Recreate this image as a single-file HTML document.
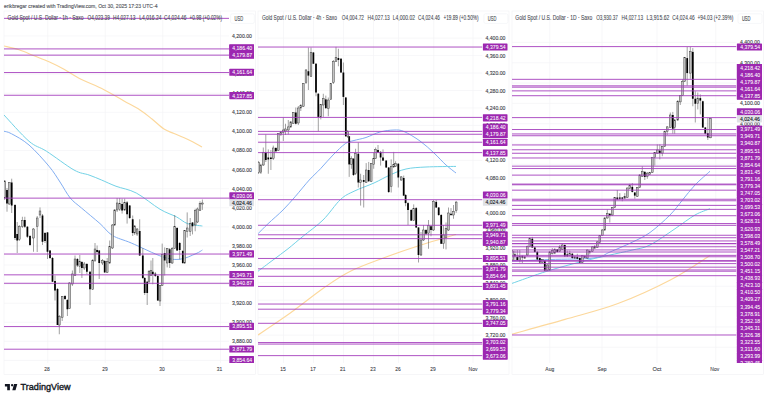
<!DOCTYPE html>
<html><head><meta charset="utf-8"><style>html,body{margin:0;padding:0;width:768px;height:400px;overflow:hidden;background:#fff}</style></head>
<body>
<svg width="768" height="400" viewBox="0 0 768 400" style="position:absolute;left:0;top:0;font-family:'Liberation Sans', sans-serif">
<rect width="768" height="400" fill="#ffffff"/>
<text x="4" y="8.3" font-size="6.2" fill="#555861" text-anchor="start" font-weight="normal" textLength="153.5" lengthAdjust="spacingAndGlyphs" stroke="#555861" stroke-width="0.15">erikbregar created with TradingView.com, Oct 30, 2025 17:23 UTC-4</text>
<clipPath id="clip0"><rect x="4" y="11" width="225" height="352"/></clipPath>
<clipPath id="aclip0"><rect x="229" y="11" width="26.5" height="352"/></clipPath>
<rect x="4" y="11" width="251.5" height="363.5" fill="#fff" stroke="#f0f1f4" stroke-width="0.6"/>
<g clip-path="url(#clip0)" stroke="#f3f4f6" stroke-width="0.7">
<line x1="4" x2="229" y1="35.93" y2="35.93"/>
<line x1="4" x2="229" y1="55.02" y2="55.02"/>
<line x1="4" x2="229" y1="74.11" y2="74.11"/>
<line x1="4" x2="229" y1="93.20" y2="93.20"/>
<line x1="4" x2="229" y1="112.29" y2="112.29"/>
<line x1="4" x2="229" y1="131.38" y2="131.38"/>
<line x1="4" x2="229" y1="150.47" y2="150.47"/>
<line x1="4" x2="229" y1="169.56" y2="169.56"/>
<line x1="4" x2="229" y1="188.65" y2="188.65"/>
<line x1="4" x2="229" y1="207.74" y2="207.74"/>
<line x1="4" x2="229" y1="226.83" y2="226.83"/>
<line x1="4" x2="229" y1="245.92" y2="245.92"/>
<line x1="4" x2="229" y1="265.01" y2="265.01"/>
<line x1="4" x2="229" y1="284.10" y2="284.10"/>
<line x1="4" x2="229" y1="303.19" y2="303.19"/>
<line x1="4" x2="229" y1="322.28" y2="322.28"/>
<line x1="4" x2="229" y1="341.37" y2="341.37"/>
<line x1="4" x2="229" y1="360.46" y2="360.46"/>
<line x1="47.8" x2="47.8" y1="11" y2="363"/>
<line x1="105.2" x2="105.2" y1="11" y2="363"/>
<line x1="162.8" x2="162.8" y1="11" y2="363"/>
<line x1="220.5" x2="220.5" y1="11" y2="363"/>
</g>
<g clip-path="url(#clip0)" fill="none" stroke-linejoin="round">
<path d="M4.00,46.00 C6.50,46.62 14.00,48.12 19.00,49.75 C24.00,51.38 29.00,53.75 34.00,55.75 C39.00,57.75 44.00,59.50 49.00,61.75 C54.00,64.00 59.00,66.50 64.00,69.25 C69.00,72.00 72.33,74.83 79.00,78.25 C85.67,81.67 96.50,85.96 104.00,89.75 C111.50,93.54 118.00,97.62 124.00,101.00 C130.00,104.38 135.33,107.00 140.00,110.00 C144.67,113.00 148.00,115.83 152.00,119.00 C156.00,122.17 160.33,126.58 164.00,129.00 C167.67,131.42 170.00,131.75 174.00,133.50 C178.00,135.25 183.33,137.25 188.00,139.50 C192.67,141.75 199.67,145.75 202.00,147.00" stroke="#fcd89c" stroke-width="1.15"/>
<path d="M4.00,115.00 C8.17,119.38 21.92,135.21 29.00,141.25 C36.08,147.29 39.00,146.46 46.50,151.25 C54.00,156.04 66.92,166.04 74.00,170.00 C81.08,173.96 84.42,173.33 89.00,175.00 C93.58,176.67 97.00,178.12 101.50,180.00 C106.00,181.88 110.21,184.08 116.00,186.25 C121.79,188.42 128.92,189.17 136.25,193.00 C143.58,196.83 153.29,205.27 160.00,209.25 C166.71,213.23 171.92,214.51 176.50,216.90 C181.08,219.29 183.18,222.08 187.50,223.60 C191.82,225.12 199.92,225.60 202.40,226.00" stroke="#72d2e6" stroke-width="1.0"/>
<path d="M4.00,131.25 C5.25,131.67 7.33,131.46 11.50,133.75 C15.67,136.04 22.75,139.58 29.00,145.00 C35.25,150.42 43.83,160.08 49.00,166.25 C54.17,172.42 56.46,176.71 60.00,182.00 C63.54,187.29 66.67,193.67 70.25,198.00 C73.83,202.33 76.54,203.73 81.50,208.00 C86.46,212.27 94.83,219.02 100.00,223.60 C105.17,228.18 107.29,232.27 112.50,235.50 C117.71,238.73 122.92,239.46 131.25,243.00 C139.58,246.54 154.38,254.04 162.50,256.75 C170.62,259.46 174.42,259.77 180.00,259.25 C185.58,258.73 192.27,255.14 196.00,253.60 C199.73,252.06 201.33,250.60 202.40,250.00" stroke="#82aef2" stroke-width="1.0"/>
</g>
<g clip-path="url(#clip0)">
<line x1="4.70" x2="4.70" y1="180.00" y2="200.00" stroke="#555" stroke-width="0.55"/>
<rect x="3.83" y="181.00" width="1.75" height="17.00" fill="#c4c4c4" stroke="#333" stroke-width="0.45"/>
<line x1="7.00" x2="7.00" y1="188.00" y2="211.70" stroke="#555" stroke-width="0.55"/>
<rect x="6.12" y="190.00" width="1.75" height="13.50" fill="#000"/>
<line x1="9.30" x2="9.30" y1="182.00" y2="205.00" stroke="#555" stroke-width="0.55"/>
<rect x="8.43" y="182.50" width="1.75" height="21.50" fill="#c4c4c4" stroke="#333" stroke-width="0.45"/>
<line x1="11.70" x2="11.70" y1="178.70" y2="213.00" stroke="#555" stroke-width="0.55"/>
<rect x="10.82" y="182.50" width="1.75" height="23.00" fill="#000"/>
<line x1="15.00" x2="15.00" y1="204.00" y2="240.00" stroke="#555" stroke-width="0.55"/>
<rect x="14.12" y="205.00" width="1.75" height="33.00" fill="#000"/>
<line x1="17.20" x2="17.20" y1="222.00" y2="253.00" stroke="#555" stroke-width="0.55"/>
<rect x="16.32" y="234.00" width="1.75" height="6.50" fill="#000"/>
<line x1="19.30" x2="19.30" y1="225.00" y2="241.00" stroke="#555" stroke-width="0.55"/>
<rect x="18.43" y="226.75" width="1.75" height="12.50" fill="#c4c4c4" stroke="#333" stroke-width="0.45"/>
<line x1="22.40" x2="22.40" y1="216.75" y2="228.00" stroke="#555" stroke-width="0.55"/>
<rect x="21.52" y="220.50" width="1.75" height="6.25" fill="#c4c4c4" stroke="#333" stroke-width="0.45"/>
<line x1="24.80" x2="24.80" y1="216.75" y2="228.00" stroke="#555" stroke-width="0.55"/>
<rect x="23.93" y="220.00" width="1.75" height="6.75" fill="#000"/>
<line x1="27.40" x2="27.40" y1="226.00" y2="238.00" stroke="#555" stroke-width="0.55"/>
<rect x="26.52" y="226.75" width="1.75" height="10.00" fill="#000"/>
<line x1="30.00" x2="30.00" y1="235.00" y2="246.00" stroke="#555" stroke-width="0.55"/>
<rect x="29.12" y="236.00" width="1.75" height="9.00" fill="#000"/>
<line x1="33.50" x2="33.50" y1="228.00" y2="251.75" stroke="#555" stroke-width="0.55"/>
<rect x="32.62" y="229.00" width="1.75" height="9.00" fill="#c4c4c4" stroke="#333" stroke-width="0.45"/>
<line x1="37.20" x2="37.20" y1="216.00" y2="252.00" stroke="#555" stroke-width="0.55"/>
<rect x="36.33" y="218.00" width="1.75" height="8.75" fill="#c4c4c4" stroke="#333" stroke-width="0.45"/>
<line x1="40.00" x2="40.00" y1="207.40" y2="218.00" stroke="#555" stroke-width="0.55"/>
<rect x="39.12" y="211.00" width="1.75" height="4.00" fill="#c4c4c4" stroke="#333" stroke-width="0.45"/>
<line x1="42.50" x2="42.50" y1="214.00" y2="245.00" stroke="#555" stroke-width="0.55"/>
<rect x="41.62" y="215.50" width="1.75" height="26.25" fill="#000"/>
<line x1="45.00" x2="45.00" y1="232.00" y2="243.00" stroke="#555" stroke-width="0.55"/>
<rect x="44.12" y="233.00" width="1.75" height="8.00" fill="#000"/>
<line x1="47.50" x2="47.50" y1="232.00" y2="259.00" stroke="#555" stroke-width="0.55"/>
<rect x="46.62" y="232.40" width="1.75" height="19.35" fill="#000"/>
<line x1="50.00" x2="50.00" y1="250.00" y2="259.00" stroke="#555" stroke-width="0.55"/>
<rect x="49.12" y="250.50" width="1.75" height="7.50" fill="#000"/>
<line x1="52.50" x2="52.50" y1="257.00" y2="282.00" stroke="#555" stroke-width="0.55"/>
<rect x="51.62" y="258.00" width="1.75" height="23.75" fill="#000"/>
<line x1="55.00" x2="55.00" y1="275.50" y2="300.50" stroke="#555" stroke-width="0.55"/>
<rect x="54.12" y="281.00" width="1.75" height="9.50" fill="#000"/>
<line x1="57.50" x2="57.50" y1="288.00" y2="325.00" stroke="#555" stroke-width="0.55"/>
<rect x="56.62" y="289.00" width="1.75" height="36.00" fill="#000"/>
<line x1="59.30" x2="59.30" y1="315.00" y2="334.25" stroke="#555" stroke-width="0.55"/>
<rect x="58.42" y="316.75" width="1.75" height="8.25" fill="#c4c4c4" stroke="#333" stroke-width="0.45"/>
<line x1="62.20" x2="62.20" y1="296.00" y2="321.00" stroke="#555" stroke-width="0.55"/>
<rect x="61.33" y="296.75" width="1.75" height="20.65" fill="#c4c4c4" stroke="#333" stroke-width="0.45"/>
<line x1="65.00" x2="65.00" y1="295.00" y2="300.00" stroke="#555" stroke-width="0.55"/>
<rect x="64.12" y="296.00" width="1.75" height="3.00" fill="#000"/>
<line x1="67.40" x2="67.40" y1="299.00" y2="316.00" stroke="#555" stroke-width="0.55"/>
<rect x="66.53" y="300.00" width="1.75" height="9.25" fill="#000"/>
<line x1="69.60" x2="69.60" y1="282.00" y2="309.00" stroke="#555" stroke-width="0.55"/>
<rect x="68.72" y="283.00" width="1.75" height="25.60" fill="#c4c4c4" stroke="#333" stroke-width="0.45"/>
<line x1="72.40" x2="72.40" y1="270.50" y2="286.00" stroke="#555" stroke-width="0.55"/>
<rect x="71.53" y="274.00" width="1.75" height="10.00" fill="#c4c4c4" stroke="#333" stroke-width="0.45"/>
<line x1="75.00" x2="75.00" y1="255.50" y2="276.00" stroke="#555" stroke-width="0.55"/>
<rect x="74.12" y="259.00" width="1.75" height="16.50" fill="#c4c4c4" stroke="#333" stroke-width="0.45"/>
<line x1="77.40" x2="77.40" y1="258.00" y2="267.00" stroke="#555" stroke-width="0.55"/>
<rect x="76.53" y="259.00" width="1.75" height="6.50" fill="#000"/>
<line x1="79.80" x2="79.80" y1="255.00" y2="273.00" stroke="#555" stroke-width="0.55"/>
<rect x="78.92" y="261.75" width="1.75" height="5.00" fill="#c4c4c4" stroke="#333" stroke-width="0.45"/>
<line x1="81.90" x2="81.90" y1="261.00" y2="278.00" stroke="#555" stroke-width="0.55"/>
<rect x="81.03" y="262.00" width="1.75" height="6.00" fill="#000"/>
<line x1="84.30" x2="84.30" y1="262.00" y2="270.00" stroke="#555" stroke-width="0.55"/>
<rect x="83.42" y="264.00" width="1.75" height="4.00" fill="#c4c4c4" stroke="#333" stroke-width="0.45"/>
<line x1="86.90" x2="86.90" y1="263.00" y2="274.25" stroke="#555" stroke-width="0.55"/>
<rect x="86.03" y="264.00" width="1.75" height="7.75" fill="#000"/>
<line x1="90.00" x2="90.00" y1="271.00" y2="305.00" stroke="#555" stroke-width="0.55"/>
<rect x="89.12" y="271.75" width="1.75" height="17.50" fill="#000"/>
<line x1="92.70" x2="92.70" y1="259.00" y2="290.00" stroke="#555" stroke-width="0.55"/>
<rect x="91.83" y="260.50" width="1.75" height="28.75" fill="#c4c4c4" stroke="#333" stroke-width="0.45"/>
<line x1="95.00" x2="95.00" y1="243.00" y2="262.00" stroke="#555" stroke-width="0.55"/>
<rect x="94.12" y="249.00" width="1.75" height="11.50" fill="#c4c4c4" stroke="#333" stroke-width="0.45"/>
<line x1="97.10" x2="97.10" y1="245.50" y2="254.00" stroke="#555" stroke-width="0.55"/>
<rect x="96.22" y="250.00" width="1.75" height="2.00" fill="#000"/>
<line x1="99.20" x2="99.20" y1="250.00" y2="279.00" stroke="#555" stroke-width="0.55"/>
<rect x="98.33" y="250.50" width="1.75" height="12.50" fill="#000"/>
<line x1="102.50" x2="102.50" y1="259.00" y2="265.00" stroke="#555" stroke-width="0.55"/>
<rect x="101.62" y="260.50" width="1.75" height="2.50" fill="#c4c4c4" stroke="#333" stroke-width="0.45"/>
<line x1="104.70" x2="104.70" y1="260.00" y2="273.00" stroke="#555" stroke-width="0.55"/>
<rect x="103.83" y="261.00" width="1.75" height="11.40" fill="#000"/>
<line x1="107.20" x2="107.20" y1="258.00" y2="273.00" stroke="#555" stroke-width="0.55"/>
<rect x="106.33" y="261.75" width="1.75" height="10.65" fill="#c4c4c4" stroke="#333" stroke-width="0.45"/>
<line x1="109.70" x2="109.70" y1="240.50" y2="264.00" stroke="#555" stroke-width="0.55"/>
<rect x="108.83" y="246.75" width="1.75" height="16.25" fill="#c4c4c4" stroke="#333" stroke-width="0.45"/>
<line x1="112.50" x2="112.50" y1="224.00" y2="249.00" stroke="#555" stroke-width="0.55"/>
<rect x="111.62" y="225.00" width="1.75" height="23.00" fill="#c4c4c4" stroke="#333" stroke-width="0.45"/>
<line x1="114.70" x2="114.70" y1="209.00" y2="226.00" stroke="#555" stroke-width="0.55"/>
<rect x="113.83" y="210.00" width="1.75" height="15.00" fill="#c4c4c4" stroke="#333" stroke-width="0.45"/>
<line x1="117.10" x2="117.10" y1="198.00" y2="212.00" stroke="#555" stroke-width="0.55"/>
<rect x="116.22" y="203.00" width="1.75" height="7.00" fill="#c4c4c4" stroke="#333" stroke-width="0.45"/>
<line x1="119.70" x2="119.70" y1="198.00" y2="211.00" stroke="#555" stroke-width="0.55"/>
<rect x="118.83" y="203.60" width="1.75" height="5.65" fill="#c4c4c4" stroke="#333" stroke-width="0.45"/>
<line x1="122.10" x2="122.10" y1="198.60" y2="213.60" stroke="#555" stroke-width="0.55"/>
<rect x="121.22" y="204.00" width="1.75" height="6.50" fill="#000"/>
<line x1="124.70" x2="124.70" y1="198.60" y2="211.00" stroke="#555" stroke-width="0.55"/>
<rect x="123.83" y="202.40" width="1.75" height="7.60" fill="#c4c4c4" stroke="#333" stroke-width="0.45"/>
<line x1="127.10" x2="127.10" y1="201.00" y2="223.60" stroke="#555" stroke-width="0.55"/>
<rect x="126.22" y="202.40" width="1.75" height="11.85" fill="#000"/>
<line x1="129.70" x2="129.70" y1="205.00" y2="219.00" stroke="#555" stroke-width="0.55"/>
<rect x="128.82" y="205.50" width="1.75" height="12.50" fill="#000"/>
<line x1="132.70" x2="132.70" y1="215.50" y2="236.00" stroke="#555" stroke-width="0.55"/>
<rect x="131.82" y="219.25" width="1.75" height="13.75" fill="#000"/>
<line x1="134.70" x2="134.70" y1="225.00" y2="235.00" stroke="#555" stroke-width="0.55"/>
<rect x="133.82" y="226.00" width="1.75" height="7.00" fill="#c4c4c4" stroke="#333" stroke-width="0.45"/>
<line x1="137.10" x2="137.10" y1="228.00" y2="236.00" stroke="#555" stroke-width="0.55"/>
<rect x="136.22" y="229.00" width="1.75" height="5.00" fill="#c4c4c4" stroke="#333" stroke-width="0.45"/>
<line x1="139.70" x2="139.70" y1="219.25" y2="256.00" stroke="#555" stroke-width="0.55"/>
<rect x="138.82" y="231.00" width="1.75" height="24.50" fill="#000"/>
<line x1="142.80" x2="142.80" y1="248.00" y2="279.00" stroke="#555" stroke-width="0.55"/>
<rect x="141.93" y="255.50" width="1.75" height="22.50" fill="#000"/>
<line x1="144.70" x2="144.70" y1="277.00" y2="295.00" stroke="#555" stroke-width="0.55"/>
<rect x="143.82" y="278.00" width="1.75" height="15.00" fill="#000"/>
<line x1="147.20" x2="147.20" y1="281.00" y2="305.00" stroke="#555" stroke-width="0.55"/>
<rect x="146.32" y="281.75" width="1.75" height="11.25" fill="#000"/>
<line x1="149.00" x2="149.00" y1="270.00" y2="283.00" stroke="#555" stroke-width="0.55"/>
<rect x="148.12" y="271.75" width="1.75" height="10.00" fill="#c4c4c4" stroke="#333" stroke-width="0.45"/>
<line x1="151.00" x2="151.00" y1="260.50" y2="276.00" stroke="#555" stroke-width="0.55"/>
<rect x="150.12" y="270.50" width="1.75" height="5.00" fill="#c4c4c4" stroke="#333" stroke-width="0.45"/>
<line x1="152.80" x2="152.80" y1="258.00" y2="284.25" stroke="#555" stroke-width="0.55"/>
<rect x="151.93" y="271.75" width="1.75" height="2.50" fill="#000"/>
<line x1="155.30" x2="155.30" y1="272.00" y2="277.00" stroke="#555" stroke-width="0.55"/>
<rect x="154.43" y="273.60" width="1.75" height="2.40" fill="#000"/>
<line x1="157.80" x2="157.80" y1="275.00" y2="301.00" stroke="#555" stroke-width="0.55"/>
<rect x="156.93" y="276.00" width="1.75" height="24.50" fill="#000"/>
<line x1="160.00" x2="160.00" y1="285.00" y2="306.00" stroke="#555" stroke-width="0.55"/>
<rect x="159.12" y="285.50" width="1.75" height="15.50" fill="#c4c4c4" stroke="#333" stroke-width="0.45"/>
<line x1="162.20" x2="162.20" y1="243.60" y2="286.00" stroke="#555" stroke-width="0.55"/>
<rect x="161.32" y="254.25" width="1.75" height="31.25" fill="#c4c4c4" stroke="#333" stroke-width="0.45"/>
<line x1="164.70" x2="164.70" y1="247.40" y2="275.50" stroke="#555" stroke-width="0.55"/>
<rect x="163.82" y="253.00" width="1.75" height="7.50" fill="#000"/>
<line x1="167.20" x2="167.20" y1="248.00" y2="267.40" stroke="#555" stroke-width="0.55"/>
<rect x="166.32" y="248.60" width="1.75" height="14.40" fill="#c4c4c4" stroke="#333" stroke-width="0.45"/>
<line x1="169.70" x2="169.70" y1="248.00" y2="268.00" stroke="#555" stroke-width="0.55"/>
<rect x="168.82" y="249.25" width="1.75" height="13.75" fill="#000"/>
<line x1="172.20" x2="172.20" y1="247.00" y2="264.00" stroke="#555" stroke-width="0.55"/>
<rect x="171.32" y="248.60" width="1.75" height="14.40" fill="#c4c4c4" stroke="#333" stroke-width="0.45"/>
<line x1="174.70" x2="174.70" y1="215.00" y2="249.00" stroke="#555" stroke-width="0.55"/>
<rect x="173.82" y="226.75" width="1.75" height="21.85" fill="#c4c4c4" stroke="#333" stroke-width="0.45"/>
<line x1="177.10" x2="177.10" y1="227.00" y2="251.00" stroke="#555" stroke-width="0.55"/>
<rect x="176.22" y="228.00" width="1.75" height="22.50" fill="#000"/>
<line x1="179.70" x2="179.70" y1="242.00" y2="259.25" stroke="#555" stroke-width="0.55"/>
<rect x="178.82" y="243.00" width="1.75" height="7.00" fill="#000"/>
<line x1="182.80" x2="182.80" y1="250.00" y2="264.00" stroke="#555" stroke-width="0.55"/>
<rect x="181.93" y="251.00" width="1.75" height="12.00" fill="#000"/>
<line x1="184.70" x2="184.70" y1="230.00" y2="264.00" stroke="#555" stroke-width="0.55"/>
<rect x="183.82" y="230.60" width="1.75" height="32.40" fill="#c4c4c4" stroke="#333" stroke-width="0.45"/>
<line x1="187.20" x2="187.20" y1="212.40" y2="237.50" stroke="#555" stroke-width="0.55"/>
<rect x="186.32" y="228.00" width="1.75" height="3.75" fill="#c4c4c4" stroke="#333" stroke-width="0.45"/>
<line x1="190.20" x2="190.20" y1="218.00" y2="236.00" stroke="#555" stroke-width="0.55"/>
<rect x="189.32" y="223.75" width="1.75" height="7.50" fill="#c4c4c4" stroke="#333" stroke-width="0.45"/>
<line x1="192.50" x2="192.50" y1="222.00" y2="234.40" stroke="#555" stroke-width="0.55"/>
<rect x="191.62" y="222.50" width="1.75" height="3.75" fill="#000"/>
<line x1="195.20" x2="195.20" y1="208.75" y2="231.25" stroke="#555" stroke-width="0.55"/>
<rect x="194.32" y="210.60" width="1.75" height="14.40" fill="#c4c4c4" stroke="#333" stroke-width="0.45"/>
<line x1="197.50" x2="197.50" y1="207.50" y2="223.00" stroke="#555" stroke-width="0.55"/>
<rect x="196.62" y="209.00" width="1.75" height="13.00" fill="#c4c4c4" stroke="#333" stroke-width="0.45"/>
<line x1="200.00" x2="200.00" y1="201.25" y2="211.00" stroke="#555" stroke-width="0.55"/>
<rect x="199.12" y="203.75" width="1.75" height="6.85" fill="#c4c4c4" stroke="#333" stroke-width="0.45"/>
<line x1="202.40" x2="202.40" y1="199.50" y2="209.90" stroke="#555" stroke-width="0.55"/>
<rect x="201.53" y="203.00" width="1.75" height="1.05" fill="#c4c4c4" stroke="#333" stroke-width="0.45"/>
</g>
<g clip-path="url(#clip0)" stroke="#a53fbd" stroke-width="0.9">
<line x1="4" x2="229" y1="-135.44" y2="-135.44"/>
<line x1="4" x2="229" y1="18.35" y2="18.35"/>
<line x1="4" x2="229" y1="48.91" y2="48.91"/>
<line x1="4" x2="229" y1="55.15" y2="55.15"/>
<line x1="4" x2="229" y1="72.55" y2="72.55"/>
<line x1="4" x2="229" y1="95.25" y2="95.25"/>
<line x1="4" x2="229" y1="198.14" y2="198.14"/>
<line x1="4" x2="229" y1="254.04" y2="254.04"/>
<line x1="4" x2="229" y1="274.83" y2="274.83"/>
<line x1="4" x2="229" y1="283.27" y2="283.27"/>
<line x1="4" x2="229" y1="326.57" y2="326.57"/>
<line x1="4" x2="229" y1="349.21" y2="349.21"/>
<line x1="4" x2="229" y1="365.58" y2="365.58"/>
<line x1="4" x2="229" y1="387.71" y2="387.71"/>
<line x1="4" x2="229" y1="426.17" y2="426.17"/>
<line x1="4" x2="229" y1="437.45" y2="437.45"/>
<line x1="4" x2="229" y1="468.27" y2="468.27"/>
<line x1="4" x2="229" y1="510.30" y2="510.30"/>
<line x1="4" x2="229" y1="513.63" y2="513.63"/>
<line x1="4" x2="229" y1="538.90" y2="538.90"/>
<line x1="4" x2="229" y1="581.61" y2="581.61"/>
<line x1="4" x2="229" y1="588.65" y2="588.65"/>
<line x1="4" x2="229" y1="610.51" y2="610.51"/>
<line x1="4" x2="229" y1="629.16" y2="629.16"/>
<line x1="4" x2="229" y1="659.02" y2="659.02"/>
<line x1="4" x2="229" y1="695.78" y2="695.78"/>
<line x1="4" x2="229" y1="704.06" y2="704.06"/>
<line x1="4" x2="229" y1="750.71" y2="750.71"/>
<line x1="4" x2="229" y1="762.37" y2="762.37"/>
<line x1="4" x2="229" y1="777.48" y2="777.48"/>
<line x1="4" x2="229" y1="789.51" y2="789.51"/>
<line x1="4" x2="229" y1="790.68" y2="790.68"/>
<line x1="4" x2="229" y1="804.83" y2="804.83"/>
<line x1="4" x2="229" y1="819.66" y2="819.66"/>
<line x1="4" x2="229" y1="845.18" y2="845.18"/>
<line x1="4" x2="229" y1="851.73" y2="851.73"/>
<line x1="4" x2="229" y1="869.80" y2="869.80"/>
<line x1="4" x2="229" y1="872.50" y2="872.50"/>
<line x1="4" x2="229" y1="883.91" y2="883.91"/>
<line x1="4" x2="229" y1="900.72" y2="900.72"/>
<line x1="4" x2="229" y1="913.64" y2="913.64"/>
<line x1="4" x2="229" y1="919.61" y2="919.61"/>
<line x1="4" x2="229" y1="940.70" y2="940.70"/>
<line x1="4" x2="229" y1="829.41" y2="829.41"/>
<line x1="4" x2="229" y1="1219.23" y2="1219.23"/>
</g>
<text x="7.6" y="19.95" font-size="6.6" fill="#444750" text-anchor="start" font-weight="normal" textLength="76" lengthAdjust="spacingAndGlyphs" stroke="#444750" stroke-width="0.08">Gold Spot / U.S. Dollar · 1h · Saxo</text>
<text x="87.6" y="19.95" font-size="6.6" fill="#444750" text-anchor="start" font-weight="normal" textLength="22.3" lengthAdjust="spacingAndGlyphs" stroke="#444750" stroke-width="0.08">O4,023.39</text>
<text x="113.1" y="19.95" font-size="6.6" fill="#444750" text-anchor="start" font-weight="normal" textLength="22.3" lengthAdjust="spacingAndGlyphs" stroke="#444750" stroke-width="0.08">H4,027.13</text>
<text x="139.2" y="19.95" font-size="6.6" fill="#444750" text-anchor="start" font-weight="normal" textLength="22.3" lengthAdjust="spacingAndGlyphs" stroke="#444750" stroke-width="0.08">L4,016.24</text>
<text x="164.1" y="19.95" font-size="6.6" fill="#444750" text-anchor="start" font-weight="normal" textLength="22.3" lengthAdjust="spacingAndGlyphs" stroke="#444750" stroke-width="0.08">C4,024.46</text>
<text x="189.5" y="19.95" font-size="6.6" fill="#444750" text-anchor="start" font-weight="normal" textLength="32.5" lengthAdjust="spacingAndGlyphs" stroke="#444750" stroke-width="0.08">+0.98 (+0.02%)</text>
<rect x="230.6" y="13.8" width="23.700000000000017" height="9.6" rx="1.5" fill="#fff" stroke="#eceef2" stroke-width="0.5"/>
<text x="234.5" y="20.6" font-size="6.3" fill="#3b3e47" text-anchor="start" font-weight="normal" textLength="8.6" lengthAdjust="spacingAndGlyphs" stroke="#3b3e47" stroke-width="0.08">USD</text>
<g clip-path="url(#aclip0)">
<text x="251.9" y="37.93189000000007" font-size="5.6" fill="#3b3e47" text-anchor="end" font-weight="normal" textLength="20" lengthAdjust="spacingAndGlyphs" stroke="#3b3e47" stroke-width="0.12">4,200.00</text>
<text x="251.9" y="57.02189000000007" font-size="5.6" fill="#3b3e47" text-anchor="end" font-weight="normal" textLength="20" lengthAdjust="spacingAndGlyphs" stroke="#3b3e47" stroke-width="0.12">4,180.00</text>
<text x="251.9" y="76.11189000000007" font-size="5.6" fill="#3b3e47" text-anchor="end" font-weight="normal" textLength="20" lengthAdjust="spacingAndGlyphs" stroke="#3b3e47" stroke-width="0.12">4,160.00</text>
<text x="251.9" y="95.20189000000008" font-size="5.6" fill="#3b3e47" text-anchor="end" font-weight="normal" textLength="20" lengthAdjust="spacingAndGlyphs" stroke="#3b3e47" stroke-width="0.12">4,140.00</text>
<text x="251.9" y="114.29189000000008" font-size="5.6" fill="#3b3e47" text-anchor="end" font-weight="normal" textLength="20" lengthAdjust="spacingAndGlyphs" stroke="#3b3e47" stroke-width="0.12">4,120.00</text>
<text x="251.9" y="133.38189000000008" font-size="5.6" fill="#3b3e47" text-anchor="end" font-weight="normal" textLength="20" lengthAdjust="spacingAndGlyphs" stroke="#3b3e47" stroke-width="0.12">4,100.00</text>
<text x="251.9" y="152.47189000000006" font-size="5.6" fill="#3b3e47" text-anchor="end" font-weight="normal" textLength="20" lengthAdjust="spacingAndGlyphs" stroke="#3b3e47" stroke-width="0.12">4,080.00</text>
<text x="251.9" y="171.56189000000006" font-size="5.6" fill="#3b3e47" text-anchor="end" font-weight="normal" textLength="20" lengthAdjust="spacingAndGlyphs" stroke="#3b3e47" stroke-width="0.12">4,060.00</text>
<text x="251.9" y="190.65189000000007" font-size="5.6" fill="#3b3e47" text-anchor="end" font-weight="normal" textLength="20" lengthAdjust="spacingAndGlyphs" stroke="#3b3e47" stroke-width="0.12">4,040.00</text>
<text x="251.9" y="209.74189000000007" font-size="5.6" fill="#3b3e47" text-anchor="end" font-weight="normal" textLength="20" lengthAdjust="spacingAndGlyphs" stroke="#3b3e47" stroke-width="0.12">4,020.00</text>
<text x="251.9" y="228.83189000000007" font-size="5.6" fill="#3b3e47" text-anchor="end" font-weight="normal" textLength="20" lengthAdjust="spacingAndGlyphs" stroke="#3b3e47" stroke-width="0.12">4,000.00</text>
<text x="251.9" y="247.92189000000008" font-size="5.6" fill="#3b3e47" text-anchor="end" font-weight="normal" textLength="20" lengthAdjust="spacingAndGlyphs" stroke="#3b3e47" stroke-width="0.12">3,980.00</text>
<text x="251.9" y="267.0118900000001" font-size="5.6" fill="#3b3e47" text-anchor="end" font-weight="normal" textLength="20" lengthAdjust="spacingAndGlyphs" stroke="#3b3e47" stroke-width="0.12">3,960.00</text>
<text x="251.9" y="286.1018900000001" font-size="5.6" fill="#3b3e47" text-anchor="end" font-weight="normal" textLength="20" lengthAdjust="spacingAndGlyphs" stroke="#3b3e47" stroke-width="0.12">3,940.00</text>
<text x="251.9" y="305.1918900000001" font-size="5.6" fill="#3b3e47" text-anchor="end" font-weight="normal" textLength="20" lengthAdjust="spacingAndGlyphs" stroke="#3b3e47" stroke-width="0.12">3,920.00</text>
<text x="251.9" y="324.2818900000001" font-size="5.6" fill="#3b3e47" text-anchor="end" font-weight="normal" textLength="20" lengthAdjust="spacingAndGlyphs" stroke="#3b3e47" stroke-width="0.12">3,900.00</text>
<text x="251.9" y="343.3718900000001" font-size="5.6" fill="#3b3e47" text-anchor="end" font-weight="normal" textLength="20" lengthAdjust="spacingAndGlyphs" stroke="#3b3e47" stroke-width="0.12">3,880.00</text>
<text x="251.9" y="362.4618900000001" font-size="5.6" fill="#3b3e47" text-anchor="end" font-weight="normal" textLength="20" lengthAdjust="spacingAndGlyphs" stroke="#3b3e47" stroke-width="0.12">3,860.00</text>
<rect x="229.3" y="44.40" width="24.70" height="14.20" fill="#9c27b0"/>
<rect x="229.3" y="44.40" width="24.70" height="7.2" rx="0.6" fill="#9c27b0"/>
<rect x="229.3" y="51.40" width="24.70" height="7.2" rx="0.6" fill="#9c27b0"/>
<rect x="229.3" y="68.65" width="24.70" height="7.2" rx="0.6" fill="#9c27b0"/>
<rect x="229.3" y="92.00" width="24.70" height="7.2" rx="0.6" fill="#9c27b0"/>
<rect x="229.3" y="192.30" width="24.70" height="7.2" rx="0.6" fill="#9c27b0"/>
<rect x="229.3" y="250.30" width="24.70" height="7.2" rx="0.6" fill="#9c27b0"/>
<rect x="229.3" y="271.00" width="24.70" height="7.2" rx="0.6" fill="#9c27b0"/>
<rect x="229.3" y="279.40" width="24.70" height="7.2" rx="0.6" fill="#9c27b0"/>
<rect x="229.3" y="322.80" width="24.70" height="7.2" rx="0.6" fill="#9c27b0"/>
<rect x="229.3" y="345.40" width="24.70" height="7.2" rx="0.6" fill="#9c27b0"/>
<rect x="229.3" y="356.10" width="24.70" height="7.2" rx="0.6" fill="#9c27b0"/>
<text x="252.1" y="49.95" font-size="5.9" fill="#ffffff" text-anchor="end" font-weight="normal" textLength="19.8" lengthAdjust="spacingAndGlyphs" stroke="#ffffff" stroke-width="0.06">4,186.40</text>
<text x="252.1" y="56.95" font-size="5.9" fill="#ffffff" text-anchor="end" font-weight="normal" textLength="19.8" lengthAdjust="spacingAndGlyphs" stroke="#ffffff" stroke-width="0.06">4,179.87</text>
<text x="252.1" y="74.2" font-size="5.9" fill="#ffffff" text-anchor="end" font-weight="normal" textLength="19.8" lengthAdjust="spacingAndGlyphs" stroke="#ffffff" stroke-width="0.06">4,161.64</text>
<text x="252.1" y="97.55" font-size="5.9" fill="#ffffff" text-anchor="end" font-weight="normal" textLength="19.8" lengthAdjust="spacingAndGlyphs" stroke="#ffffff" stroke-width="0.06">4,137.85</text>
<text x="252.1" y="197.85" font-size="5.9" fill="#ffffff" text-anchor="end" font-weight="normal" textLength="19.8" lengthAdjust="spacingAndGlyphs" stroke="#ffffff" stroke-width="0.06">4,030.06</text>
<text x="252.1" y="255.85" font-size="5.9" fill="#ffffff" text-anchor="end" font-weight="normal" textLength="19.8" lengthAdjust="spacingAndGlyphs" stroke="#ffffff" stroke-width="0.06">3,971.49</text>
<text x="252.1" y="276.55" font-size="5.9" fill="#ffffff" text-anchor="end" font-weight="normal" textLength="19.8" lengthAdjust="spacingAndGlyphs" stroke="#ffffff" stroke-width="0.06">3,949.71</text>
<text x="252.1" y="284.95" font-size="5.9" fill="#ffffff" text-anchor="end" font-weight="normal" textLength="19.8" lengthAdjust="spacingAndGlyphs" stroke="#ffffff" stroke-width="0.06">3,940.87</text>
<text x="252.1" y="328.34999999999997" font-size="5.9" fill="#ffffff" text-anchor="end" font-weight="normal" textLength="19.8" lengthAdjust="spacingAndGlyphs" stroke="#ffffff" stroke-width="0.06">3,895.51</text>
<text x="252.1" y="350.95" font-size="5.9" fill="#ffffff" text-anchor="end" font-weight="normal" textLength="19.8" lengthAdjust="spacingAndGlyphs" stroke="#ffffff" stroke-width="0.06">3,871.79</text>
<text x="252.1" y="361.65" font-size="5.9" fill="#ffffff" text-anchor="end" font-weight="normal" textLength="19.8" lengthAdjust="spacingAndGlyphs" stroke="#ffffff" stroke-width="0.06">3,854.64</text>
<rect x="229.3" y="199.25" width="24.70" height="7.1" rx="0.6" fill="#dfe1e6"/>
<text x="251.9" y="204.65" font-size="5.6" fill="#131722" text-anchor="end" font-weight="normal" textLength="20" lengthAdjust="spacingAndGlyphs" stroke="#131722" stroke-width="0.12">4,024.46</text>
</g>
<text x="47" y="371.1" font-size="5.9" fill="#3b3e47" text-anchor="middle" font-weight="normal" textLength="5.4" lengthAdjust="spacingAndGlyphs" stroke="#3b3e47" stroke-width="0.1">28</text>
<text x="105" y="371.1" font-size="5.9" fill="#3b3e47" text-anchor="middle" font-weight="normal" textLength="5.4" lengthAdjust="spacingAndGlyphs" stroke="#3b3e47" stroke-width="0.1">29</text>
<text x="162" y="371.1" font-size="5.9" fill="#3b3e47" text-anchor="middle" font-weight="normal" textLength="5.4" lengthAdjust="spacingAndGlyphs" stroke="#3b3e47" stroke-width="0.1">30</text>
<text x="219.5" y="371.1" font-size="5.9" fill="#3b3e47" text-anchor="middle" font-weight="normal" textLength="5.4" lengthAdjust="spacingAndGlyphs" stroke="#3b3e47" stroke-width="0.1">31</text>
<clipPath id="clip1"><rect x="258" y="11" width="224.5" height="352"/></clipPath>
<clipPath id="aclip1"><rect x="482.5" y="11" width="26.5" height="352"/></clipPath>
<rect x="258" y="11" width="251" height="363.5" fill="#fff" stroke="#f0f1f4" stroke-width="0.6"/>
<g clip-path="url(#clip1)" stroke="#f3f4f6" stroke-width="0.7">
<line x1="258" x2="482.5" y1="38.10" y2="38.10"/>
<line x1="258" x2="482.5" y1="55.57" y2="55.57"/>
<line x1="258" x2="482.5" y1="73.04" y2="73.04"/>
<line x1="258" x2="482.5" y1="90.52" y2="90.52"/>
<line x1="258" x2="482.5" y1="107.99" y2="107.99"/>
<line x1="258" x2="482.5" y1="125.46" y2="125.46"/>
<line x1="258" x2="482.5" y1="142.93" y2="142.93"/>
<line x1="258" x2="482.5" y1="160.40" y2="160.40"/>
<line x1="258" x2="482.5" y1="177.88" y2="177.88"/>
<line x1="258" x2="482.5" y1="195.35" y2="195.35"/>
<line x1="258" x2="482.5" y1="212.82" y2="212.82"/>
<line x1="258" x2="482.5" y1="230.29" y2="230.29"/>
<line x1="258" x2="482.5" y1="247.76" y2="247.76"/>
<line x1="258" x2="482.5" y1="265.24" y2="265.24"/>
<line x1="258" x2="482.5" y1="282.71" y2="282.71"/>
<line x1="258" x2="482.5" y1="300.18" y2="300.18"/>
<line x1="258" x2="482.5" y1="317.65" y2="317.65"/>
<line x1="258" x2="482.5" y1="335.12" y2="335.12"/>
<line x1="283.5" x2="283.5" y1="11" y2="363"/>
<line x1="313.5" x2="313.5" y1="11" y2="363"/>
<line x1="343.5" x2="343.5" y1="11" y2="363"/>
<line x1="373.5" x2="373.5" y1="11" y2="363"/>
<line x1="398.5" x2="398.5" y1="11" y2="363"/>
<line x1="433.8" x2="433.8" y1="11" y2="363"/>
<line x1="473" x2="473" y1="11" y2="363"/>
</g>
<g clip-path="url(#clip1)" fill="none" stroke-linejoin="round">
<path d="M258.00,233.75 C259.67,232.08 263.83,227.71 268.00,223.75 C272.17,219.79 278.42,214.58 283.00,210.00 C287.58,205.42 291.12,201.25 295.50,196.25 C299.88,191.25 305.08,184.58 309.25,180.00 C313.42,175.42 316.54,172.92 320.50,168.75 C324.46,164.58 328.83,159.21 333.00,155.00 C337.17,150.79 342.00,145.92 345.50,143.50 C349.00,141.08 350.58,141.50 354.00,140.50 C357.42,139.50 361.67,138.92 366.00,137.50 C370.33,136.08 375.33,133.25 380.00,132.00 C384.67,130.75 390.00,130.08 394.00,130.00 C398.00,129.92 399.67,129.67 404.00,131.50 C408.33,133.33 415.00,137.42 420.00,141.00 C425.00,144.58 429.67,149.00 434.00,153.00 C438.33,157.00 442.33,161.67 446.00,165.00 C449.67,168.33 454.33,171.67 456.00,173.00" stroke="#82aef2" stroke-width="1.0"/>
<path d="M258.00,271.25 C260.50,269.38 268.00,263.75 273.00,260.00 C278.00,256.25 283.00,252.71 288.00,248.75 C293.00,244.79 297.17,241.04 303.00,236.25 C308.83,231.46 316.75,226.12 323.00,220.00 C329.25,213.88 335.33,204.29 340.50,199.50 C345.67,194.71 348.42,194.00 354.00,191.25 C359.58,188.50 368.00,185.71 374.00,183.00 C380.00,180.29 384.67,177.33 390.00,175.00 C395.33,172.67 400.00,170.33 406.00,169.00 C412.00,167.67 417.67,167.43 426.00,167.00 C434.33,166.57 451.00,166.50 456.00,166.40" stroke="#72d2e6" stroke-width="1.0"/>
<path d="M258.00,335.00 C263.50,331.25 280.00,320.38 291.00,312.50 C302.00,304.62 314.10,294.62 324.00,287.75 C333.90,280.88 340.50,276.21 350.40,271.25 C360.30,266.29 372.40,262.12 383.40,258.00 C394.40,253.88 404.30,250.42 416.40,246.50 C428.50,242.58 449.40,236.50 456.00,234.50" stroke="#fcd89c" stroke-width="1.15"/>
</g>
<g clip-path="url(#clip1)">
<line x1="258.60" x2="258.60" y1="161.00" y2="174.00" stroke="#555" stroke-width="0.55"/>
<rect x="257.73" y="162.50" width="1.75" height="10.00" fill="#c4c4c4" stroke="#333" stroke-width="0.45"/>
<line x1="260.90" x2="260.90" y1="163.75" y2="174.00" stroke="#555" stroke-width="0.55"/>
<rect x="260.02" y="165.00" width="1.75" height="7.50" fill="#c4c4c4" stroke="#333" stroke-width="0.45"/>
<line x1="263.30" x2="263.30" y1="147.50" y2="166.00" stroke="#555" stroke-width="0.55"/>
<rect x="262.43" y="152.50" width="1.75" height="12.50" fill="#c4c4c4" stroke="#333" stroke-width="0.45"/>
<line x1="265.80" x2="265.80" y1="134.40" y2="162.00" stroke="#555" stroke-width="0.55"/>
<rect x="264.93" y="152.50" width="1.75" height="7.50" fill="#000"/>
<line x1="268.30" x2="268.30" y1="149.40" y2="173.75" stroke="#555" stroke-width="0.55"/>
<rect x="267.43" y="157.50" width="1.75" height="1.90" fill="#000"/>
<line x1="270.90" x2="270.90" y1="150.00" y2="170.00" stroke="#555" stroke-width="0.55"/>
<rect x="270.02" y="157.50" width="1.75" height="1.50" fill="#000"/>
<line x1="273.30" x2="273.30" y1="145.60" y2="160.00" stroke="#555" stroke-width="0.55"/>
<rect x="272.43" y="148.00" width="1.75" height="10.75" fill="#c4c4c4" stroke="#333" stroke-width="0.45"/>
<line x1="275.90" x2="275.90" y1="147.00" y2="152.00" stroke="#555" stroke-width="0.55"/>
<rect x="275.02" y="148.00" width="1.75" height="3.25" fill="#000"/>
<line x1="278.30" x2="278.30" y1="133.00" y2="151.00" stroke="#555" stroke-width="0.55"/>
<rect x="277.43" y="133.75" width="1.75" height="16.85" fill="#c4c4c4" stroke="#333" stroke-width="0.45"/>
<line x1="280.90" x2="280.90" y1="131.00" y2="136.00" stroke="#555" stroke-width="0.55"/>
<rect x="280.02" y="131.90" width="1.75" height="2.50" fill="#c4c4c4" stroke="#333" stroke-width="0.45"/>
<line x1="283.30" x2="283.30" y1="117.50" y2="141.00" stroke="#555" stroke-width="0.55"/>
<rect x="282.43" y="130.00" width="1.75" height="2.50" fill="#c4c4c4" stroke="#333" stroke-width="0.45"/>
<line x1="285.50" x2="285.50" y1="123.75" y2="135.00" stroke="#555" stroke-width="0.55"/>
<rect x="284.62" y="129.00" width="1.75" height="2.00" fill="#c4c4c4" stroke="#333" stroke-width="0.45"/>
<line x1="288.30" x2="288.30" y1="120.00" y2="134.40" stroke="#555" stroke-width="0.55"/>
<rect x="287.43" y="126.90" width="1.75" height="3.10" fill="#c4c4c4" stroke="#333" stroke-width="0.45"/>
<line x1="290.80" x2="290.80" y1="121.00" y2="128.00" stroke="#555" stroke-width="0.55"/>
<rect x="289.93" y="121.90" width="1.75" height="5.00" fill="#c4c4c4" stroke="#333" stroke-width="0.45"/>
<line x1="293.30" x2="293.30" y1="112.00" y2="124.00" stroke="#555" stroke-width="0.55"/>
<rect x="292.43" y="112.50" width="1.75" height="11.25" fill="#c4c4c4" stroke="#333" stroke-width="0.45"/>
<line x1="295.80" x2="295.80" y1="107.50" y2="124.50" stroke="#555" stroke-width="0.55"/>
<rect x="294.93" y="112.50" width="1.75" height="11.25" fill="#000"/>
<line x1="298.30" x2="298.30" y1="106.00" y2="125.00" stroke="#555" stroke-width="0.55"/>
<rect x="297.43" y="108.00" width="1.75" height="15.00" fill="#c4c4c4" stroke="#333" stroke-width="0.45"/>
<line x1="300.80" x2="300.80" y1="104.00" y2="111.00" stroke="#555" stroke-width="0.55"/>
<rect x="299.93" y="105.60" width="1.75" height="2.40" fill="#c4c4c4" stroke="#333" stroke-width="0.45"/>
<line x1="303.30" x2="303.30" y1="83.00" y2="107.00" stroke="#555" stroke-width="0.55"/>
<rect x="302.43" y="83.75" width="1.75" height="22.50" fill="#c4c4c4" stroke="#333" stroke-width="0.45"/>
<line x1="306.00" x2="306.00" y1="69.00" y2="84.00" stroke="#555" stroke-width="0.55"/>
<rect x="305.12" y="70.00" width="1.75" height="12.50" fill="#c4c4c4" stroke="#333" stroke-width="0.45"/>
<line x1="308.40" x2="308.40" y1="47.50" y2="90.00" stroke="#555" stroke-width="0.55"/>
<rect x="307.52" y="71.25" width="1.75" height="4.35" fill="#000"/>
<line x1="311.00" x2="311.00" y1="47.50" y2="77.00" stroke="#555" stroke-width="0.55"/>
<rect x="310.12" y="52.50" width="1.75" height="23.75" fill="#c4c4c4" stroke="#333" stroke-width="0.45"/>
<line x1="313.40" x2="313.40" y1="52.00" y2="64.00" stroke="#555" stroke-width="0.55"/>
<rect x="312.52" y="52.50" width="1.75" height="11.25" fill="#000"/>
<line x1="316.00" x2="316.00" y1="63.00" y2="96.25" stroke="#555" stroke-width="0.55"/>
<rect x="315.12" y="63.75" width="1.75" height="28.75" fill="#000"/>
<line x1="318.30" x2="318.30" y1="93.00" y2="131.25" stroke="#555" stroke-width="0.55"/>
<rect x="317.43" y="93.75" width="1.75" height="23.15" fill="#000"/>
<line x1="320.80" x2="320.80" y1="104.00" y2="119.40" stroke="#555" stroke-width="0.55"/>
<rect x="319.93" y="104.40" width="1.75" height="12.50" fill="#c4c4c4" stroke="#333" stroke-width="0.45"/>
<line x1="323.30" x2="323.30" y1="93.75" y2="116.90" stroke="#555" stroke-width="0.55"/>
<rect x="322.43" y="98.75" width="1.75" height="6.25" fill="#c4c4c4" stroke="#333" stroke-width="0.45"/>
<line x1="325.80" x2="325.80" y1="95.60" y2="109.00" stroke="#555" stroke-width="0.55"/>
<rect x="324.93" y="99.40" width="1.75" height="8.70" fill="#000"/>
<line x1="328.30" x2="328.30" y1="97.50" y2="116.25" stroke="#555" stroke-width="0.55"/>
<rect x="327.43" y="100.00" width="1.75" height="8.75" fill="#c4c4c4" stroke="#333" stroke-width="0.45"/>
<line x1="330.90" x2="330.90" y1="83.00" y2="100.00" stroke="#555" stroke-width="0.55"/>
<rect x="330.02" y="83.75" width="1.75" height="15.65" fill="#c4c4c4" stroke="#333" stroke-width="0.45"/>
<line x1="333.40" x2="333.40" y1="60.00" y2="84.00" stroke="#555" stroke-width="0.55"/>
<rect x="332.52" y="61.25" width="1.75" height="21.25" fill="#c4c4c4" stroke="#333" stroke-width="0.45"/>
<line x1="336.00" x2="336.00" y1="46.90" y2="62.00" stroke="#555" stroke-width="0.55"/>
<rect x="335.12" y="57.50" width="1.75" height="3.75" fill="#c4c4c4" stroke="#333" stroke-width="0.45"/>
<line x1="338.40" x2="338.40" y1="48.75" y2="66.25" stroke="#555" stroke-width="0.55"/>
<rect x="337.52" y="58.00" width="1.75" height="2.00" fill="#000"/>
<line x1="341.00" x2="341.00" y1="58.00" y2="73.00" stroke="#555" stroke-width="0.55"/>
<rect x="340.12" y="58.75" width="1.75" height="13.75" fill="#000"/>
<line x1="343.40" x2="343.40" y1="62.50" y2="105.00" stroke="#555" stroke-width="0.55"/>
<rect x="342.52" y="72.50" width="1.75" height="24.40" fill="#000"/>
<line x1="345.80" x2="345.80" y1="97.00" y2="137.00" stroke="#555" stroke-width="0.55"/>
<rect x="344.93" y="97.50" width="1.75" height="38.75" fill="#000"/>
<line x1="347.70" x2="347.70" y1="130.00" y2="138.00" stroke="#555" stroke-width="0.55"/>
<rect x="346.82" y="131.25" width="1.75" height="5.00" fill="#c4c4c4" stroke="#333" stroke-width="0.45"/>
<line x1="349.20" x2="349.20" y1="136.00" y2="176.90" stroke="#555" stroke-width="0.55"/>
<rect x="348.32" y="136.25" width="1.75" height="28.15" fill="#000"/>
<line x1="351.40" x2="351.40" y1="156.25" y2="168.75" stroke="#555" stroke-width="0.55"/>
<rect x="350.52" y="158.75" width="1.75" height="5.65" fill="#c4c4c4" stroke="#333" stroke-width="0.45"/>
<line x1="353.50" x2="353.50" y1="158.00" y2="176.00" stroke="#555" stroke-width="0.55"/>
<rect x="352.62" y="158.75" width="1.75" height="16.25" fill="#000"/>
<line x1="355.60" x2="355.60" y1="148.75" y2="175.00" stroke="#555" stroke-width="0.55"/>
<rect x="354.73" y="153.75" width="1.75" height="20.00" fill="#c4c4c4" stroke="#333" stroke-width="0.45"/>
<line x1="358.30" x2="358.30" y1="142.50" y2="187.50" stroke="#555" stroke-width="0.55"/>
<rect x="357.43" y="153.75" width="1.75" height="28.75" fill="#000"/>
<line x1="360.60" x2="360.60" y1="173.75" y2="205.60" stroke="#555" stroke-width="0.55"/>
<rect x="359.73" y="180.00" width="1.75" height="2.50" fill="#c4c4c4" stroke="#333" stroke-width="0.45"/>
<line x1="363.70" x2="363.70" y1="175.00" y2="207.50" stroke="#555" stroke-width="0.55"/>
<rect x="362.82" y="180.00" width="1.75" height="1.90" fill="#000"/>
<line x1="366.20" x2="366.20" y1="163.10" y2="183.00" stroke="#555" stroke-width="0.55"/>
<rect x="365.32" y="170.00" width="1.75" height="12.50" fill="#c4c4c4" stroke="#333" stroke-width="0.45"/>
<line x1="368.70" x2="368.70" y1="161.90" y2="182.00" stroke="#555" stroke-width="0.55"/>
<rect x="367.82" y="170.00" width="1.75" height="11.25" fill="#000"/>
<line x1="371.20" x2="371.20" y1="163.00" y2="182.00" stroke="#555" stroke-width="0.55"/>
<rect x="370.32" y="163.75" width="1.75" height="17.50" fill="#c4c4c4" stroke="#333" stroke-width="0.45"/>
<line x1="373.70" x2="373.70" y1="152.50" y2="168.75" stroke="#555" stroke-width="0.55"/>
<rect x="372.82" y="158.75" width="1.75" height="5.65" fill="#c4c4c4" stroke="#333" stroke-width="0.45"/>
<line x1="375.60" x2="375.60" y1="147.50" y2="159.00" stroke="#555" stroke-width="0.55"/>
<rect x="374.73" y="149.40" width="1.75" height="9.35" fill="#c4c4c4" stroke="#333" stroke-width="0.45"/>
<line x1="378.00" x2="378.00" y1="145.00" y2="153.00" stroke="#555" stroke-width="0.55"/>
<rect x="377.12" y="150.00" width="1.75" height="2.50" fill="#000"/>
<line x1="380.60" x2="380.60" y1="151.00" y2="165.60" stroke="#555" stroke-width="0.55"/>
<rect x="379.73" y="151.90" width="1.75" height="5.60" fill="#000"/>
<line x1="383.00" x2="383.00" y1="149.40" y2="161.00" stroke="#555" stroke-width="0.55"/>
<rect x="382.12" y="157.50" width="1.75" height="3.10" fill="#000"/>
<line x1="386.20" x2="386.20" y1="160.00" y2="168.00" stroke="#555" stroke-width="0.55"/>
<rect x="385.32" y="160.60" width="1.75" height="6.90" fill="#000"/>
<line x1="388.70" x2="388.70" y1="167.00" y2="193.00" stroke="#555" stroke-width="0.55"/>
<rect x="387.82" y="167.50" width="1.75" height="24.50" fill="#000"/>
<line x1="391.20" x2="391.20" y1="159.40" y2="192.50" stroke="#555" stroke-width="0.55"/>
<rect x="390.32" y="166.25" width="1.75" height="20.00" fill="#c4c4c4" stroke="#333" stroke-width="0.45"/>
<line x1="393.70" x2="393.70" y1="151.90" y2="168.00" stroke="#555" stroke-width="0.55"/>
<rect x="392.82" y="164.40" width="1.75" height="2.50" fill="#c4c4c4" stroke="#333" stroke-width="0.45"/>
<line x1="395.60" x2="395.60" y1="161.25" y2="167.00" stroke="#555" stroke-width="0.55"/>
<rect x="394.73" y="163.75" width="1.75" height="2.50" fill="#c4c4c4" stroke="#333" stroke-width="0.45"/>
<line x1="398.30" x2="398.30" y1="163.00" y2="187.50" stroke="#555" stroke-width="0.55"/>
<rect x="397.43" y="163.75" width="1.75" height="13.75" fill="#000"/>
<line x1="401.20" x2="401.20" y1="176.00" y2="181.00" stroke="#555" stroke-width="0.55"/>
<rect x="400.32" y="176.90" width="1.75" height="3.10" fill="#c4c4c4" stroke="#333" stroke-width="0.45"/>
<line x1="403.70" x2="403.70" y1="175.60" y2="196.00" stroke="#555" stroke-width="0.55"/>
<rect x="402.82" y="178.00" width="1.75" height="17.60" fill="#000"/>
<line x1="405.60" x2="405.60" y1="194.00" y2="206.25" stroke="#555" stroke-width="0.55"/>
<rect x="404.73" y="195.00" width="1.75" height="8.10" fill="#000"/>
<line x1="408.00" x2="408.00" y1="201.90" y2="225.00" stroke="#555" stroke-width="0.55"/>
<rect x="407.12" y="203.10" width="1.75" height="6.90" fill="#000"/>
<line x1="411.20" x2="411.20" y1="209.00" y2="221.00" stroke="#555" stroke-width="0.55"/>
<rect x="410.32" y="210.00" width="1.75" height="10.60" fill="#000"/>
<line x1="413.70" x2="413.70" y1="204.40" y2="221.00" stroke="#555" stroke-width="0.55"/>
<rect x="412.82" y="208.75" width="1.75" height="11.85" fill="#c4c4c4" stroke="#333" stroke-width="0.45"/>
<line x1="416.20" x2="416.20" y1="207.00" y2="228.00" stroke="#555" stroke-width="0.55"/>
<rect x="415.32" y="208.10" width="1.75" height="19.40" fill="#000"/>
<line x1="418.50" x2="418.50" y1="227.00" y2="262.50" stroke="#555" stroke-width="0.55"/>
<rect x="417.62" y="227.50" width="1.75" height="27.50" fill="#000"/>
<line x1="421.00" x2="421.00" y1="232.00" y2="256.00" stroke="#555" stroke-width="0.55"/>
<rect x="420.12" y="240.00" width="1.75" height="15.00" fill="#c4c4c4" stroke="#333" stroke-width="0.45"/>
<line x1="423.50" x2="423.50" y1="225.00" y2="241.00" stroke="#555" stroke-width="0.55"/>
<rect x="422.62" y="230.00" width="1.75" height="10.00" fill="#c4c4c4" stroke="#333" stroke-width="0.45"/>
<line x1="426.00" x2="426.00" y1="229.00" y2="235.00" stroke="#555" stroke-width="0.55"/>
<rect x="425.12" y="230.00" width="1.75" height="3.75" fill="#000"/>
<line x1="428.50" x2="428.50" y1="220.00" y2="248.75" stroke="#555" stroke-width="0.55"/>
<rect x="427.62" y="225.60" width="1.75" height="7.50" fill="#c4c4c4" stroke="#333" stroke-width="0.45"/>
<line x1="431.00" x2="431.00" y1="225.00" y2="236.25" stroke="#555" stroke-width="0.55"/>
<rect x="430.12" y="226.25" width="1.75" height="3.75" fill="#000"/>
<line x1="433.50" x2="433.50" y1="200.00" y2="231.00" stroke="#555" stroke-width="0.55"/>
<rect x="432.62" y="201.25" width="1.75" height="28.75" fill="#c4c4c4" stroke="#333" stroke-width="0.45"/>
<line x1="436.20" x2="436.20" y1="200.00" y2="208.00" stroke="#555" stroke-width="0.55"/>
<rect x="435.32" y="201.90" width="1.75" height="5.60" fill="#000"/>
<line x1="438.70" x2="438.70" y1="207.00" y2="216.00" stroke="#555" stroke-width="0.55"/>
<rect x="437.82" y="207.50" width="1.75" height="7.50" fill="#000"/>
<line x1="441.20" x2="441.20" y1="214.00" y2="244.00" stroke="#555" stroke-width="0.55"/>
<rect x="440.32" y="215.00" width="1.75" height="28.75" fill="#000"/>
<line x1="443.50" x2="443.50" y1="225.00" y2="248.75" stroke="#555" stroke-width="0.55"/>
<rect x="442.62" y="235.00" width="1.75" height="8.75" fill="#c4c4c4" stroke="#333" stroke-width="0.45"/>
<line x1="446.00" x2="446.00" y1="222.50" y2="249.40" stroke="#555" stroke-width="0.55"/>
<rect x="445.12" y="228.75" width="1.75" height="8.75" fill="#c4c4c4" stroke="#333" stroke-width="0.45"/>
<line x1="448.50" x2="448.50" y1="207.50" y2="231.00" stroke="#555" stroke-width="0.55"/>
<rect x="447.62" y="213.00" width="1.75" height="17.00" fill="#c4c4c4" stroke="#333" stroke-width="0.45"/>
<line x1="451.00" x2="451.00" y1="208.10" y2="216.00" stroke="#555" stroke-width="0.55"/>
<rect x="450.12" y="213.75" width="1.75" height="1.25" fill="#000"/>
<line x1="453.50" x2="453.50" y1="205.00" y2="218.75" stroke="#555" stroke-width="0.55"/>
<rect x="452.62" y="211.25" width="1.75" height="3.75" fill="#c4c4c4" stroke="#333" stroke-width="0.45"/>
<line x1="456.20" x2="456.20" y1="200.97" y2="212.80" stroke="#555" stroke-width="0.55"/>
<rect x="455.32" y="202.10" width="1.75" height="8.66" fill="#c4c4c4" stroke="#333" stroke-width="0.45"/>
</g>
<g clip-path="url(#clip1)" stroke="#a53fbd" stroke-width="0.9">
<line x1="258" x2="482.5" y1="47.04" y2="47.04"/>
<line x1="258" x2="482.5" y1="117.41" y2="117.41"/>
<line x1="258" x2="482.5" y1="131.40" y2="131.40"/>
<line x1="258" x2="482.5" y1="134.25" y2="134.25"/>
<line x1="258" x2="482.5" y1="142.22" y2="142.22"/>
<line x1="258" x2="482.5" y1="152.61" y2="152.61"/>
<line x1="258" x2="482.5" y1="199.69" y2="199.69"/>
<line x1="258" x2="482.5" y1="225.27" y2="225.27"/>
<line x1="258" x2="482.5" y1="234.79" y2="234.79"/>
<line x1="258" x2="482.5" y1="238.65" y2="238.65"/>
<line x1="258" x2="482.5" y1="258.46" y2="258.46"/>
<line x1="258" x2="482.5" y1="268.82" y2="268.82"/>
<line x1="258" x2="482.5" y1="276.31" y2="276.31"/>
<line x1="258" x2="482.5" y1="286.44" y2="286.44"/>
<line x1="258" x2="482.5" y1="304.04" y2="304.04"/>
<line x1="258" x2="482.5" y1="309.20" y2="309.20"/>
<line x1="258" x2="482.5" y1="323.31" y2="323.31"/>
<line x1="258" x2="482.5" y1="342.54" y2="342.54"/>
<line x1="258" x2="482.5" y1="344.07" y2="344.07"/>
<line x1="258" x2="482.5" y1="355.63" y2="355.63"/>
<line x1="258" x2="482.5" y1="375.17" y2="375.17"/>
<line x1="258" x2="482.5" y1="378.40" y2="378.40"/>
<line x1="258" x2="482.5" y1="388.40" y2="388.40"/>
<line x1="258" x2="482.5" y1="396.94" y2="396.94"/>
<line x1="258" x2="482.5" y1="410.60" y2="410.60"/>
<line x1="258" x2="482.5" y1="427.42" y2="427.42"/>
<line x1="258" x2="482.5" y1="431.21" y2="431.21"/>
<line x1="258" x2="482.5" y1="452.56" y2="452.56"/>
<line x1="258" x2="482.5" y1="457.90" y2="457.90"/>
<line x1="258" x2="482.5" y1="464.81" y2="464.81"/>
<line x1="258" x2="482.5" y1="470.31" y2="470.31"/>
<line x1="258" x2="482.5" y1="470.85" y2="470.85"/>
<line x1="258" x2="482.5" y1="477.32" y2="477.32"/>
<line x1="258" x2="482.5" y1="484.11" y2="484.11"/>
<line x1="258" x2="482.5" y1="495.79" y2="495.79"/>
<line x1="258" x2="482.5" y1="498.79" y2="498.79"/>
<line x1="258" x2="482.5" y1="507.06" y2="507.06"/>
<line x1="258" x2="482.5" y1="508.29" y2="508.29"/>
<line x1="258" x2="482.5" y1="513.51" y2="513.51"/>
<line x1="258" x2="482.5" y1="521.21" y2="521.21"/>
<line x1="258" x2="482.5" y1="527.12" y2="527.12"/>
<line x1="258" x2="482.5" y1="529.85" y2="529.85"/>
<line x1="258" x2="482.5" y1="539.50" y2="539.50"/>
<line x1="258" x2="482.5" y1="488.57" y2="488.57"/>
<line x1="258" x2="482.5" y1="666.96" y2="666.96"/>
</g>
<text x="261.9" y="19.95" font-size="6.6" fill="#444750" text-anchor="start" font-weight="normal" textLength="75" lengthAdjust="spacingAndGlyphs" stroke="#444750" stroke-width="0.08">Gold Spot / U.S. Dollar · 4h · Saxo</text>
<text x="341.8" y="19.95" font-size="6.6" fill="#444750" text-anchor="start" font-weight="normal" textLength="22.2" lengthAdjust="spacingAndGlyphs" stroke="#444750" stroke-width="0.08">O4,004.72</text>
<text x="367.5" y="19.95" font-size="6.6" fill="#444750" text-anchor="start" font-weight="normal" textLength="22.3" lengthAdjust="spacingAndGlyphs" stroke="#444750" stroke-width="0.08">H4,027.13</text>
<text x="392.75" y="19.95" font-size="6.6" fill="#444750" text-anchor="start" font-weight="normal" textLength="22.25" lengthAdjust="spacingAndGlyphs" stroke="#444750" stroke-width="0.08">L4,000.02</text>
<text x="418" y="19.95" font-size="6.6" fill="#444750" text-anchor="start" font-weight="normal" textLength="22" lengthAdjust="spacingAndGlyphs" stroke="#444750" stroke-width="0.08">C4,024.46</text>
<text x="443.4" y="19.95" font-size="6.6" fill="#444750" text-anchor="start" font-weight="normal" textLength="35.2" lengthAdjust="spacingAndGlyphs" stroke="#444750" stroke-width="0.08">+19.89 (+0.50%)</text>
<rect x="483.9" y="13.8" width="24.0" height="9.6" rx="1.5" fill="#fff" stroke="#eceef2" stroke-width="0.5"/>
<text x="487.79999999999995" y="20.6" font-size="6.3" fill="#3b3e47" text-anchor="start" font-weight="normal" textLength="8.6" lengthAdjust="spacingAndGlyphs" stroke="#3b3e47" stroke-width="0.08">USD</text>
<g clip-path="url(#aclip1)">
<text x="505.4" y="40.1" font-size="5.6" fill="#3b3e47" text-anchor="end" font-weight="normal" textLength="20" lengthAdjust="spacingAndGlyphs" stroke="#3b3e47" stroke-width="0.12">4,400.00</text>
<text x="505.4" y="57.572" font-size="5.6" fill="#3b3e47" text-anchor="end" font-weight="normal" textLength="20" lengthAdjust="spacingAndGlyphs" stroke="#3b3e47" stroke-width="0.12">4,360.00</text>
<text x="505.4" y="75.04400000000001" font-size="5.6" fill="#3b3e47" text-anchor="end" font-weight="normal" textLength="20" lengthAdjust="spacingAndGlyphs" stroke="#3b3e47" stroke-width="0.12">4,320.00</text>
<text x="505.4" y="92.516" font-size="5.6" fill="#3b3e47" text-anchor="end" font-weight="normal" textLength="20" lengthAdjust="spacingAndGlyphs" stroke="#3b3e47" stroke-width="0.12">4,280.00</text>
<text x="505.4" y="109.988" font-size="5.6" fill="#3b3e47" text-anchor="end" font-weight="normal" textLength="20" lengthAdjust="spacingAndGlyphs" stroke="#3b3e47" stroke-width="0.12">4,240.00</text>
<text x="505.4" y="127.46000000000001" font-size="5.6" fill="#3b3e47" text-anchor="end" font-weight="normal" textLength="20" lengthAdjust="spacingAndGlyphs" stroke="#3b3e47" stroke-width="0.12">4,200.00</text>
<text x="505.4" y="144.93200000000002" font-size="5.6" fill="#3b3e47" text-anchor="end" font-weight="normal" textLength="20" lengthAdjust="spacingAndGlyphs" stroke="#3b3e47" stroke-width="0.12">4,160.00</text>
<text x="505.4" y="162.404" font-size="5.6" fill="#3b3e47" text-anchor="end" font-weight="normal" textLength="20" lengthAdjust="spacingAndGlyphs" stroke="#3b3e47" stroke-width="0.12">4,120.00</text>
<text x="505.4" y="179.876" font-size="5.6" fill="#3b3e47" text-anchor="end" font-weight="normal" textLength="20" lengthAdjust="spacingAndGlyphs" stroke="#3b3e47" stroke-width="0.12">4,080.00</text>
<text x="505.4" y="197.348" font-size="5.6" fill="#3b3e47" text-anchor="end" font-weight="normal" textLength="20" lengthAdjust="spacingAndGlyphs" stroke="#3b3e47" stroke-width="0.12">4,040.00</text>
<text x="505.4" y="214.82" font-size="5.6" fill="#3b3e47" text-anchor="end" font-weight="normal" textLength="20" lengthAdjust="spacingAndGlyphs" stroke="#3b3e47" stroke-width="0.12">4,000.00</text>
<text x="505.4" y="232.292" font-size="5.6" fill="#3b3e47" text-anchor="end" font-weight="normal" textLength="20" lengthAdjust="spacingAndGlyphs" stroke="#3b3e47" stroke-width="0.12">3,960.00</text>
<text x="505.4" y="249.764" font-size="5.6" fill="#3b3e47" text-anchor="end" font-weight="normal" textLength="20" lengthAdjust="spacingAndGlyphs" stroke="#3b3e47" stroke-width="0.12">3,920.00</text>
<text x="505.4" y="267.23600000000005" font-size="5.6" fill="#3b3e47" text-anchor="end" font-weight="normal" textLength="20" lengthAdjust="spacingAndGlyphs" stroke="#3b3e47" stroke-width="0.12">3,880.00</text>
<text x="505.4" y="284.708" font-size="5.6" fill="#3b3e47" text-anchor="end" font-weight="normal" textLength="20" lengthAdjust="spacingAndGlyphs" stroke="#3b3e47" stroke-width="0.12">3,840.00</text>
<text x="505.4" y="302.18000000000006" font-size="5.6" fill="#3b3e47" text-anchor="end" font-weight="normal" textLength="20" lengthAdjust="spacingAndGlyphs" stroke="#3b3e47" stroke-width="0.12">3,800.00</text>
<text x="505.4" y="319.65200000000004" font-size="5.6" fill="#3b3e47" text-anchor="end" font-weight="normal" textLength="20" lengthAdjust="spacingAndGlyphs" stroke="#3b3e47" stroke-width="0.12">3,760.00</text>
<text x="505.4" y="337.124" font-size="5.6" fill="#3b3e47" text-anchor="end" font-weight="normal" textLength="20" lengthAdjust="spacingAndGlyphs" stroke="#3b3e47" stroke-width="0.12">3,720.00</text>
<rect x="482.8" y="123.80" width="24.70" height="14.20" fill="#9c27b0"/>
<rect x="482.8" y="231.60" width="24.70" height="14.10" fill="#9c27b0"/>
<rect x="482.8" y="265.70" width="24.70" height="14.00" fill="#9c27b0"/>
<rect x="482.8" y="300.20" width="24.70" height="14.10" fill="#9c27b0"/>
<rect x="482.8" y="338.60" width="24.70" height="20.90" fill="#9c27b0"/>
<rect x="482.8" y="43.40" width="24.70" height="7.2" rx="0.6" fill="#9c27b0"/>
<rect x="482.8" y="114.20" width="24.70" height="7.2" rx="0.6" fill="#9c27b0"/>
<rect x="482.8" y="123.80" width="24.70" height="7.2" rx="0.6" fill="#9c27b0"/>
<rect x="482.8" y="130.80" width="24.70" height="7.2" rx="0.6" fill="#9c27b0"/>
<rect x="482.8" y="138.70" width="24.70" height="7.2" rx="0.6" fill="#9c27b0"/>
<rect x="482.8" y="149.40" width="24.70" height="7.2" rx="0.6" fill="#9c27b0"/>
<rect x="482.8" y="191.40" width="24.70" height="7.2" rx="0.6" fill="#9c27b0"/>
<rect x="482.8" y="221.40" width="24.70" height="7.2" rx="0.6" fill="#9c27b0"/>
<rect x="482.8" y="231.60" width="24.70" height="7.2" rx="0.6" fill="#9c27b0"/>
<rect x="482.8" y="238.50" width="24.70" height="7.2" rx="0.6" fill="#9c27b0"/>
<rect x="482.8" y="254.90" width="24.70" height="7.2" rx="0.6" fill="#9c27b0"/>
<rect x="482.8" y="265.70" width="24.70" height="7.2" rx="0.6" fill="#9c27b0"/>
<rect x="482.8" y="272.50" width="24.70" height="7.2" rx="0.6" fill="#9c27b0"/>
<rect x="482.8" y="282.70" width="24.70" height="7.2" rx="0.6" fill="#9c27b0"/>
<rect x="482.8" y="300.20" width="24.70" height="7.2" rx="0.6" fill="#9c27b0"/>
<rect x="482.8" y="307.10" width="24.70" height="7.2" rx="0.6" fill="#9c27b0"/>
<rect x="482.8" y="319.70" width="24.70" height="7.2" rx="0.6" fill="#9c27b0"/>
<rect x="482.8" y="338.60" width="24.70" height="7.2" rx="0.6" fill="#9c27b0"/>
<rect x="482.8" y="345.40" width="24.70" height="7.2" rx="0.6" fill="#9c27b0"/>
<rect x="482.8" y="352.30" width="24.70" height="7.2" rx="0.6" fill="#9c27b0"/>
<text x="505.6" y="48.95" font-size="5.9" fill="#ffffff" text-anchor="end" font-weight="normal" textLength="19.8" lengthAdjust="spacingAndGlyphs" stroke="#ffffff" stroke-width="0.06">4,379.54</text>
<text x="505.6" y="119.75" font-size="5.9" fill="#ffffff" text-anchor="end" font-weight="normal" textLength="19.8" lengthAdjust="spacingAndGlyphs" stroke="#ffffff" stroke-width="0.06">4,218.42</text>
<text x="505.6" y="129.35" font-size="5.9" fill="#ffffff" text-anchor="end" font-weight="normal" textLength="19.8" lengthAdjust="spacingAndGlyphs" stroke="#ffffff" stroke-width="0.06">4,186.40</text>
<text x="505.6" y="136.35" font-size="5.9" fill="#ffffff" text-anchor="end" font-weight="normal" textLength="19.8" lengthAdjust="spacingAndGlyphs" stroke="#ffffff" stroke-width="0.06">4,179.87</text>
<text x="505.6" y="144.25" font-size="5.9" fill="#ffffff" text-anchor="end" font-weight="normal" textLength="19.8" lengthAdjust="spacingAndGlyphs" stroke="#ffffff" stroke-width="0.06">4,161.64</text>
<text x="505.6" y="154.95" font-size="5.9" fill="#ffffff" text-anchor="end" font-weight="normal" textLength="19.8" lengthAdjust="spacingAndGlyphs" stroke="#ffffff" stroke-width="0.06">4,137.85</text>
<text x="505.6" y="196.95" font-size="5.9" fill="#ffffff" text-anchor="end" font-weight="normal" textLength="19.8" lengthAdjust="spacingAndGlyphs" stroke="#ffffff" stroke-width="0.06">4,030.06</text>
<text x="505.6" y="226.95" font-size="5.9" fill="#ffffff" text-anchor="end" font-weight="normal" textLength="19.8" lengthAdjust="spacingAndGlyphs" stroke="#ffffff" stroke-width="0.06">3,971.49</text>
<text x="505.6" y="237.14999999999998" font-size="5.9" fill="#ffffff" text-anchor="end" font-weight="normal" textLength="19.8" lengthAdjust="spacingAndGlyphs" stroke="#ffffff" stroke-width="0.06">3,949.71</text>
<text x="505.6" y="244.04999999999998" font-size="5.9" fill="#ffffff" text-anchor="end" font-weight="normal" textLength="19.8" lengthAdjust="spacingAndGlyphs" stroke="#ffffff" stroke-width="0.06">3,940.87</text>
<text x="505.6" y="260.45" font-size="5.9" fill="#ffffff" text-anchor="end" font-weight="normal" textLength="19.8" lengthAdjust="spacingAndGlyphs" stroke="#ffffff" stroke-width="0.06">3,895.51</text>
<text x="505.6" y="271.25" font-size="5.9" fill="#ffffff" text-anchor="end" font-weight="normal" textLength="19.8" lengthAdjust="spacingAndGlyphs" stroke="#ffffff" stroke-width="0.06">3,871.79</text>
<text x="505.6" y="278.05" font-size="5.9" fill="#ffffff" text-anchor="end" font-weight="normal" textLength="19.8" lengthAdjust="spacingAndGlyphs" stroke="#ffffff" stroke-width="0.06">3,854.64</text>
<text x="505.6" y="288.25" font-size="5.9" fill="#ffffff" text-anchor="end" font-weight="normal" textLength="19.8" lengthAdjust="spacingAndGlyphs" stroke="#ffffff" stroke-width="0.06">3,831.45</text>
<text x="505.6" y="305.75" font-size="5.9" fill="#ffffff" text-anchor="end" font-weight="normal" textLength="19.8" lengthAdjust="spacingAndGlyphs" stroke="#ffffff" stroke-width="0.06">3,791.16</text>
<text x="505.6" y="312.65" font-size="5.9" fill="#ffffff" text-anchor="end" font-weight="normal" textLength="19.8" lengthAdjust="spacingAndGlyphs" stroke="#ffffff" stroke-width="0.06">3,779.34</text>
<text x="505.6" y="325.25" font-size="5.9" fill="#ffffff" text-anchor="end" font-weight="normal" textLength="19.8" lengthAdjust="spacingAndGlyphs" stroke="#ffffff" stroke-width="0.06">3,747.05</text>
<text x="505.6" y="344.15" font-size="5.9" fill="#ffffff" text-anchor="end" font-weight="normal" textLength="19.8" lengthAdjust="spacingAndGlyphs" stroke="#ffffff" stroke-width="0.06">3,703.02</text>
<text x="505.6" y="350.95" font-size="5.9" fill="#ffffff" text-anchor="end" font-weight="normal" textLength="19.8" lengthAdjust="spacingAndGlyphs" stroke="#ffffff" stroke-width="0.06">3,699.53</text>
<text x="505.6" y="357.84999999999997" font-size="5.9" fill="#ffffff" text-anchor="end" font-weight="normal" textLength="19.8" lengthAdjust="spacingAndGlyphs" stroke="#ffffff" stroke-width="0.06">3,673.06</text>
<rect x="482.8" y="198.75" width="24.70" height="7.1" rx="0.6" fill="#dfe1e6"/>
<text x="505.4" y="204.15" font-size="5.6" fill="#131722" text-anchor="end" font-weight="normal" textLength="20" lengthAdjust="spacingAndGlyphs" stroke="#131722" stroke-width="0.12">4,024.46</text>
</g>
<text x="283" y="371.1" font-size="5.9" fill="#3b3e47" text-anchor="middle" font-weight="normal" textLength="5.4" lengthAdjust="spacingAndGlyphs" stroke="#3b3e47" stroke-width="0.1">15</text>
<text x="313" y="371.1" font-size="5.9" fill="#3b3e47" text-anchor="middle" font-weight="normal" textLength="5.4" lengthAdjust="spacingAndGlyphs" stroke="#3b3e47" stroke-width="0.1">17</text>
<text x="342.75" y="371.1" font-size="5.9" fill="#3b3e47" text-anchor="middle" font-weight="normal" textLength="5.4" lengthAdjust="spacingAndGlyphs" stroke="#3b3e47" stroke-width="0.1">21</text>
<text x="373" y="371.1" font-size="5.9" fill="#3b3e47" text-anchor="middle" font-weight="normal" textLength="5.4" lengthAdjust="spacingAndGlyphs" stroke="#3b3e47" stroke-width="0.1">23</text>
<text x="398" y="371.1" font-size="5.9" fill="#3b3e47" text-anchor="middle" font-weight="normal" textLength="5.4" lengthAdjust="spacingAndGlyphs" stroke="#3b3e47" stroke-width="0.1">26</text>
<text x="433" y="371.1" font-size="5.9" fill="#3b3e47" text-anchor="middle" font-weight="normal" textLength="5.4" lengthAdjust="spacingAndGlyphs" stroke="#3b3e47" stroke-width="0.1">29</text>
<text x="473" y="371.1" font-size="5.9" fill="#3b3e47" text-anchor="middle" font-weight="normal" textLength="8.8" lengthAdjust="spacingAndGlyphs" stroke="#3b3e47" stroke-width="0.1">Nov</text>
<clipPath id="clip2"><rect x="512" y="11" width="224.5" height="352"/></clipPath>
<clipPath id="aclip2"><rect x="736.5" y="11" width="27.0" height="352"/></clipPath>
<rect x="512" y="11" width="251.5" height="363.5" fill="#fff" stroke="#f0f1f4" stroke-width="0.6"/>
<g clip-path="url(#clip2)" stroke="#f3f4f6" stroke-width="0.7">
<line x1="512" x2="736.5" y1="42.44" y2="42.44"/>
<line x1="512" x2="736.5" y1="62.76" y2="62.76"/>
<line x1="512" x2="736.5" y1="83.08" y2="83.08"/>
<line x1="512" x2="736.5" y1="103.40" y2="103.40"/>
<line x1="512" x2="736.5" y1="123.72" y2="123.72"/>
<line x1="512" x2="736.5" y1="144.04" y2="144.04"/>
<line x1="512" x2="736.5" y1="164.36" y2="164.36"/>
<line x1="512" x2="736.5" y1="184.68" y2="184.68"/>
<line x1="512" x2="736.5" y1="205.00" y2="205.00"/>
<line x1="512" x2="736.5" y1="225.32" y2="225.32"/>
<line x1="512" x2="736.5" y1="245.64" y2="245.64"/>
<line x1="512" x2="736.5" y1="265.96" y2="265.96"/>
<line x1="512" x2="736.5" y1="286.28" y2="286.28"/>
<line x1="512" x2="736.5" y1="306.60" y2="306.60"/>
<line x1="512" x2="736.5" y1="326.92" y2="326.92"/>
<line x1="512" x2="736.5" y1="347.24" y2="347.24"/>
<line x1="549.75" x2="549.75" y1="11" y2="363"/>
<line x1="602" x2="602" y1="11" y2="363"/>
<line x1="657" x2="657" y1="11" y2="363"/>
<line x1="715.7" x2="715.7" y1="11" y2="363"/>
</g>
<g clip-path="url(#clip2)" fill="none" stroke-linejoin="round">
<path d="M512.00,261.00 C518.33,260.75 536.33,260.00 550.00,259.50 C563.67,259.00 584.00,259.25 594.00,258.00 C604.00,256.75 603.67,254.62 610.00,252.00 C616.33,249.38 625.33,245.55 632.00,242.30 C638.67,239.05 643.67,237.05 650.00,232.50 C656.33,227.95 664.58,220.42 670.00,215.00 C675.42,209.58 678.33,205.00 682.50,200.00 C686.67,195.00 690.42,189.79 695.00,185.00 C699.58,180.21 707.50,173.54 710.00,171.25" stroke="#82aef2" stroke-width="1.0"/>
<path d="M512.00,283.40 C517.83,281.37 535.33,274.85 547.00,271.20 C558.67,267.55 571.78,264.13 582.00,261.50 C592.22,258.87 599.97,257.30 608.30,255.40 C616.63,253.50 625.05,251.83 632.00,250.10 C638.95,248.37 642.83,248.56 650.00,245.00 C657.17,241.44 667.50,233.75 675.00,228.75 C682.50,223.75 689.17,218.33 695.00,215.00 C700.83,211.67 707.50,209.79 710.00,208.75" stroke="#72d2e6" stroke-width="1.0"/>
<path d="M512.00,334.20 C520.83,331.73 547.33,324.52 565.00,319.40 C582.67,314.28 600.37,310.12 618.00,303.50 C635.63,296.88 655.47,287.70 670.80,279.70 C686.13,271.70 703.47,259.53 710.00,255.50" stroke="#fcd89c" stroke-width="1.15"/>
</g>
<g clip-path="url(#clip2)">
<line x1="512.60" x2="512.60" y1="250.00" y2="261.00" stroke="#555" stroke-width="0.55"/>
<rect x="511.73" y="251.00" width="1.75" height="9.00" fill="#c4c4c4" stroke="#333" stroke-width="0.45"/>
<line x1="514.90" x2="514.90" y1="250.60" y2="260.60" stroke="#555" stroke-width="0.55"/>
<rect x="514.02" y="254.40" width="1.75" height="1.85" fill="#000"/>
<line x1="517.30" x2="517.30" y1="250.00" y2="261.00" stroke="#555" stroke-width="0.55"/>
<rect x="516.42" y="257.00" width="1.75" height="3.00" fill="#000"/>
<line x1="519.80" x2="519.80" y1="250.00" y2="262.50" stroke="#555" stroke-width="0.55"/>
<rect x="518.92" y="256.25" width="1.75" height="4.35" fill="#c4c4c4" stroke="#333" stroke-width="0.45"/>
<line x1="522.30" x2="522.30" y1="255.00" y2="263.00" stroke="#555" stroke-width="0.55"/>
<rect x="521.42" y="256.25" width="1.75" height="1.25" fill="#000"/>
<line x1="524.80" x2="524.80" y1="256.00" y2="259.00" stroke="#555" stroke-width="0.55"/>
<rect x="523.92" y="256.90" width="1.75" height="1.20" fill="#c4c4c4" stroke="#333" stroke-width="0.45"/>
<line x1="527.30" x2="527.30" y1="245.60" y2="256.00" stroke="#555" stroke-width="0.55"/>
<rect x="526.42" y="246.25" width="1.75" height="8.75" fill="#c4c4c4" stroke="#333" stroke-width="0.45"/>
<line x1="529.80" x2="529.80" y1="237.50" y2="247.00" stroke="#555" stroke-width="0.55"/>
<rect x="528.92" y="238.75" width="1.75" height="7.50" fill="#c4c4c4" stroke="#333" stroke-width="0.45"/>
<line x1="532.30" x2="532.30" y1="236.90" y2="248.00" stroke="#555" stroke-width="0.55"/>
<rect x="531.42" y="238.75" width="1.75" height="8.75" fill="#000"/>
<line x1="534.80" x2="534.80" y1="247.00" y2="252.50" stroke="#555" stroke-width="0.55"/>
<rect x="533.92" y="247.50" width="1.75" height="4.40" fill="#000"/>
<line x1="537.30" x2="537.30" y1="251.00" y2="260.00" stroke="#555" stroke-width="0.55"/>
<rect x="536.42" y="251.90" width="1.75" height="7.50" fill="#000"/>
<line x1="539.80" x2="539.80" y1="257.50" y2="263.75" stroke="#555" stroke-width="0.55"/>
<rect x="538.92" y="258.00" width="1.75" height="4.50" fill="#000"/>
<line x1="542.30" x2="542.30" y1="259.00" y2="263.00" stroke="#555" stroke-width="0.55"/>
<rect x="541.42" y="259.40" width="1.75" height="3.10" fill="#c4c4c4" stroke="#333" stroke-width="0.45"/>
<line x1="544.80" x2="544.80" y1="260.00" y2="271.00" stroke="#555" stroke-width="0.55"/>
<rect x="543.92" y="260.60" width="1.75" height="10.00" fill="#000"/>
<line x1="547.30" x2="547.30" y1="264.00" y2="271.00" stroke="#555" stroke-width="0.55"/>
<rect x="546.42" y="265.00" width="1.75" height="5.60" fill="#c4c4c4" stroke="#333" stroke-width="0.45"/>
<line x1="549.80" x2="549.80" y1="251.00" y2="270.60" stroke="#555" stroke-width="0.55"/>
<rect x="548.92" y="251.90" width="1.75" height="18.10" fill="#c4c4c4" stroke="#333" stroke-width="0.45"/>
<line x1="552.30" x2="552.30" y1="248.10" y2="254.40" stroke="#555" stroke-width="0.55"/>
<rect x="551.42" y="250.60" width="1.75" height="3.15" fill="#c4c4c4" stroke="#333" stroke-width="0.45"/>
<line x1="554.80" x2="554.80" y1="248.10" y2="254.00" stroke="#555" stroke-width="0.55"/>
<rect x="553.92" y="249.40" width="1.75" height="3.70" fill="#c4c4c4" stroke="#333" stroke-width="0.45"/>
<line x1="557.30" x2="557.30" y1="249.00" y2="252.50" stroke="#555" stroke-width="0.55"/>
<rect x="556.42" y="249.40" width="1.75" height="2.50" fill="#000"/>
<line x1="559.80" x2="559.80" y1="245.00" y2="252.00" stroke="#555" stroke-width="0.55"/>
<rect x="558.92" y="246.90" width="1.75" height="4.35" fill="#c4c4c4" stroke="#333" stroke-width="0.45"/>
<line x1="562.30" x2="562.30" y1="243.10" y2="250.00" stroke="#555" stroke-width="0.55"/>
<rect x="561.42" y="245.00" width="1.75" height="4.40" fill="#c4c4c4" stroke="#333" stroke-width="0.45"/>
<line x1="564.80" x2="564.80" y1="244.40" y2="257.00" stroke="#555" stroke-width="0.55"/>
<rect x="563.92" y="245.00" width="1.75" height="11.25" fill="#000"/>
<line x1="567.30" x2="567.30" y1="250.60" y2="257.00" stroke="#555" stroke-width="0.55"/>
<rect x="566.42" y="254.40" width="1.75" height="1.85" fill="#000"/>
<line x1="569.80" x2="569.80" y1="250.60" y2="256.25" stroke="#555" stroke-width="0.55"/>
<rect x="568.92" y="253.75" width="1.75" height="1.85" fill="#c4c4c4" stroke="#333" stroke-width="0.45"/>
<line x1="572.30" x2="572.30" y1="253.00" y2="258.75" stroke="#555" stroke-width="0.55"/>
<rect x="571.42" y="253.75" width="1.75" height="4.25" fill="#000"/>
<line x1="574.80" x2="574.80" y1="256.00" y2="259.00" stroke="#555" stroke-width="0.55"/>
<rect x="573.92" y="256.90" width="1.75" height="1.20" fill="#c4c4c4" stroke="#333" stroke-width="0.45"/>
<line x1="577.30" x2="577.30" y1="253.75" y2="259.40" stroke="#555" stroke-width="0.55"/>
<rect x="576.42" y="256.90" width="1.75" height="1.85" fill="#000"/>
<line x1="579.80" x2="579.80" y1="257.50" y2="263.00" stroke="#555" stroke-width="0.55"/>
<rect x="578.92" y="258.00" width="1.75" height="4.50" fill="#000"/>
<line x1="582.30" x2="582.30" y1="255.00" y2="263.00" stroke="#555" stroke-width="0.55"/>
<rect x="581.42" y="255.60" width="1.75" height="6.90" fill="#c4c4c4" stroke="#333" stroke-width="0.45"/>
<line x1="584.80" x2="584.80" y1="255.00" y2="258.10" stroke="#555" stroke-width="0.55"/>
<rect x="583.92" y="256.25" width="1.75" height="1.25" fill="#000"/>
<line x1="587.30" x2="587.30" y1="249.40" y2="258.75" stroke="#555" stroke-width="0.55"/>
<rect x="586.42" y="250.00" width="1.75" height="8.00" fill="#c4c4c4" stroke="#333" stroke-width="0.45"/>
<line x1="589.80" x2="589.80" y1="250.00" y2="254.40" stroke="#555" stroke-width="0.55"/>
<rect x="588.92" y="251.25" width="1.75" height="1.25" fill="#c4c4c4" stroke="#333" stroke-width="0.45"/>
<line x1="592.30" x2="592.30" y1="246.00" y2="252.00" stroke="#555" stroke-width="0.55"/>
<rect x="591.42" y="246.90" width="1.75" height="4.35" fill="#c4c4c4" stroke="#333" stroke-width="0.45"/>
<line x1="594.80" x2="594.80" y1="245.00" y2="249.00" stroke="#555" stroke-width="0.55"/>
<rect x="593.92" y="246.25" width="1.75" height="1.85" fill="#c4c4c4" stroke="#333" stroke-width="0.45"/>
<line x1="597.30" x2="597.30" y1="241.00" y2="248.00" stroke="#555" stroke-width="0.55"/>
<rect x="596.42" y="241.90" width="1.75" height="5.60" fill="#c4c4c4" stroke="#333" stroke-width="0.45"/>
<line x1="599.80" x2="599.80" y1="235.00" y2="243.00" stroke="#555" stroke-width="0.55"/>
<rect x="598.92" y="235.60" width="1.75" height="6.90" fill="#c4c4c4" stroke="#333" stroke-width="0.45"/>
<line x1="602.30" x2="602.30" y1="229.00" y2="236.00" stroke="#555" stroke-width="0.55"/>
<rect x="601.42" y="230.00" width="1.75" height="5.60" fill="#c4c4c4" stroke="#333" stroke-width="0.45"/>
<line x1="604.80" x2="604.80" y1="217.00" y2="231.00" stroke="#555" stroke-width="0.55"/>
<rect x="603.92" y="218.00" width="1.75" height="12.00" fill="#c4c4c4" stroke="#333" stroke-width="0.45"/>
<line x1="607.30" x2="607.30" y1="209.40" y2="218.75" stroke="#555" stroke-width="0.55"/>
<rect x="606.42" y="213.75" width="1.75" height="4.25" fill="#c4c4c4" stroke="#333" stroke-width="0.45"/>
<line x1="609.80" x2="609.80" y1="213.00" y2="222.50" stroke="#555" stroke-width="0.55"/>
<rect x="608.92" y="213.75" width="1.75" height="1.85" fill="#000"/>
<line x1="612.30" x2="612.30" y1="207.00" y2="216.00" stroke="#555" stroke-width="0.55"/>
<rect x="611.42" y="207.50" width="1.75" height="7.50" fill="#c4c4c4" stroke="#333" stroke-width="0.45"/>
<line x1="614.80" x2="614.80" y1="197.00" y2="208.00" stroke="#555" stroke-width="0.55"/>
<rect x="613.92" y="197.50" width="1.75" height="10.00" fill="#c4c4c4" stroke="#333" stroke-width="0.45"/>
<line x1="617.30" x2="617.30" y1="190.00" y2="200.00" stroke="#555" stroke-width="0.55"/>
<rect x="616.42" y="197.50" width="1.75" height="1.90" fill="#000"/>
<line x1="619.80" x2="619.80" y1="193.10" y2="200.00" stroke="#555" stroke-width="0.55"/>
<rect x="618.92" y="197.50" width="1.75" height="1.25" fill="#000"/>
<line x1="622.30" x2="622.30" y1="197.00" y2="201.25" stroke="#555" stroke-width="0.55"/>
<rect x="621.42" y="197.50" width="1.75" height="1.25" fill="#000"/>
<line x1="624.80" x2="624.80" y1="193.10" y2="199.00" stroke="#555" stroke-width="0.55"/>
<rect x="623.92" y="196.25" width="1.75" height="1.85" fill="#c4c4c4" stroke="#333" stroke-width="0.45"/>
<line x1="627.30" x2="627.30" y1="187.50" y2="198.00" stroke="#555" stroke-width="0.55"/>
<rect x="626.42" y="188.00" width="1.75" height="9.50" fill="#c4c4c4" stroke="#333" stroke-width="0.45"/>
<line x1="629.80" x2="629.80" y1="183.75" y2="189.40" stroke="#555" stroke-width="0.55"/>
<rect x="628.92" y="185.60" width="1.75" height="3.15" fill="#c4c4c4" stroke="#333" stroke-width="0.45"/>
<line x1="632.30" x2="632.30" y1="183.10" y2="192.50" stroke="#555" stroke-width="0.55"/>
<rect x="631.42" y="186.90" width="1.75" height="5.00" fill="#000"/>
<line x1="634.80" x2="634.80" y1="192.00" y2="198.75" stroke="#555" stroke-width="0.55"/>
<rect x="633.92" y="192.50" width="1.75" height="3.10" fill="#000"/>
<line x1="637.30" x2="637.30" y1="187.00" y2="197.00" stroke="#555" stroke-width="0.55"/>
<rect x="636.42" y="187.50" width="1.75" height="8.75" fill="#c4c4c4" stroke="#333" stroke-width="0.45"/>
<line x1="639.80" x2="639.80" y1="174.00" y2="188.00" stroke="#555" stroke-width="0.55"/>
<rect x="638.92" y="175.00" width="1.75" height="12.50" fill="#c4c4c4" stroke="#333" stroke-width="0.45"/>
<line x1="642.30" x2="642.30" y1="166.25" y2="177.00" stroke="#555" stroke-width="0.55"/>
<rect x="641.42" y="171.25" width="1.75" height="5.00" fill="#c4c4c4" stroke="#333" stroke-width="0.45"/>
<line x1="644.80" x2="644.80" y1="171.00" y2="180.00" stroke="#555" stroke-width="0.55"/>
<rect x="643.92" y="171.90" width="1.75" height="5.00" fill="#000"/>
<line x1="647.30" x2="647.30" y1="172.00" y2="178.75" stroke="#555" stroke-width="0.55"/>
<rect x="646.42" y="173.10" width="1.75" height="3.15" fill="#c4c4c4" stroke="#333" stroke-width="0.45"/>
<line x1="649.80" x2="649.80" y1="171.90" y2="175.00" stroke="#555" stroke-width="0.55"/>
<rect x="648.92" y="172.50" width="1.75" height="1.90" fill="#c4c4c4" stroke="#333" stroke-width="0.45"/>
<line x1="652.30" x2="652.30" y1="157.00" y2="173.00" stroke="#555" stroke-width="0.55"/>
<rect x="651.42" y="157.50" width="1.75" height="15.00" fill="#c4c4c4" stroke="#333" stroke-width="0.45"/>
<line x1="654.80" x2="654.80" y1="152.00" y2="165.60" stroke="#555" stroke-width="0.55"/>
<rect x="653.92" y="152.50" width="1.75" height="5.00" fill="#c4c4c4" stroke="#333" stroke-width="0.45"/>
<line x1="657.30" x2="657.30" y1="144.40" y2="154.00" stroke="#555" stroke-width="0.55"/>
<rect x="656.42" y="150.00" width="1.75" height="3.10" fill="#c4c4c4" stroke="#333" stroke-width="0.45"/>
<line x1="659.80" x2="659.80" y1="144.40" y2="159.40" stroke="#555" stroke-width="0.55"/>
<rect x="658.92" y="150.60" width="1.75" height="2.50" fill="#000"/>
<line x1="662.30" x2="662.30" y1="146.00" y2="156.25" stroke="#555" stroke-width="0.55"/>
<rect x="661.42" y="146.25" width="1.75" height="6.85" fill="#c4c4c4" stroke="#333" stroke-width="0.45"/>
<line x1="664.80" x2="664.80" y1="130.60" y2="147.00" stroke="#555" stroke-width="0.55"/>
<rect x="663.92" y="131.25" width="1.75" height="15.00" fill="#c4c4c4" stroke="#333" stroke-width="0.45"/>
<line x1="667.20" x2="667.20" y1="126.00" y2="135.00" stroke="#555" stroke-width="0.55"/>
<rect x="666.33" y="126.90" width="1.75" height="4.35" fill="#c4c4c4" stroke="#333" stroke-width="0.45"/>
<line x1="670.30" x2="670.30" y1="112.50" y2="128.00" stroke="#555" stroke-width="0.55"/>
<rect x="669.42" y="115.00" width="1.75" height="12.50" fill="#c4c4c4" stroke="#333" stroke-width="0.45"/>
<line x1="672.80" x2="672.80" y1="111.90" y2="133.75" stroke="#555" stroke-width="0.55"/>
<rect x="671.92" y="115.00" width="1.75" height="13.75" fill="#000"/>
<line x1="674.70" x2="674.70" y1="119.00" y2="133.75" stroke="#555" stroke-width="0.55"/>
<rect x="673.83" y="120.00" width="1.75" height="7.50" fill="#c4c4c4" stroke="#333" stroke-width="0.45"/>
<line x1="677.80" x2="677.80" y1="100.00" y2="121.00" stroke="#555" stroke-width="0.55"/>
<rect x="676.92" y="101.25" width="1.75" height="18.75" fill="#c4c4c4" stroke="#333" stroke-width="0.45"/>
<line x1="680.30" x2="680.30" y1="95.00" y2="105.00" stroke="#555" stroke-width="0.55"/>
<rect x="679.42" y="95.60" width="1.75" height="6.30" fill="#c4c4c4" stroke="#333" stroke-width="0.45"/>
<line x1="682.50" x2="682.50" y1="79.40" y2="96.00" stroke="#555" stroke-width="0.55"/>
<rect x="681.62" y="81.25" width="1.75" height="14.35" fill="#c4c4c4" stroke="#333" stroke-width="0.45"/>
<line x1="684.70" x2="684.70" y1="57.00" y2="82.00" stroke="#555" stroke-width="0.55"/>
<rect x="683.83" y="57.50" width="1.75" height="23.75" fill="#c4c4c4" stroke="#333" stroke-width="0.45"/>
<line x1="687.20" x2="687.20" y1="46.90" y2="85.60" stroke="#555" stroke-width="0.55"/>
<rect x="686.33" y="58.10" width="1.75" height="15.00" fill="#000"/>
<line x1="690.30" x2="690.30" y1="46.90" y2="78.75" stroke="#555" stroke-width="0.55"/>
<rect x="689.42" y="51.25" width="1.75" height="21.85" fill="#c4c4c4" stroke="#333" stroke-width="0.45"/>
<line x1="692.80" x2="692.80" y1="48.10" y2="106.25" stroke="#555" stroke-width="0.55"/>
<rect x="691.92" y="51.90" width="1.75" height="46.85" fill="#000"/>
<line x1="695.30" x2="695.30" y1="91.25" y2="122.50" stroke="#555" stroke-width="0.55"/>
<rect x="694.42" y="98.75" width="1.75" height="5.00" fill="#000"/>
<line x1="697.80" x2="697.80" y1="92.50" y2="109.40" stroke="#555" stroke-width="0.55"/>
<rect x="696.92" y="98.10" width="1.75" height="5.65" fill="#c4c4c4" stroke="#333" stroke-width="0.45"/>
<line x1="700.30" x2="700.30" y1="94.40" y2="114.40" stroke="#555" stroke-width="0.55"/>
<rect x="699.42" y="98.10" width="1.75" height="2.50" fill="#000"/>
<line x1="702.80" x2="702.80" y1="100.60" y2="128.00" stroke="#555" stroke-width="0.55"/>
<rect x="701.92" y="101.25" width="1.75" height="26.25" fill="#000"/>
<line x1="705.30" x2="705.30" y1="127.00" y2="134.40" stroke="#555" stroke-width="0.55"/>
<rect x="704.42" y="127.50" width="1.75" height="6.25" fill="#000"/>
<line x1="707.80" x2="707.80" y1="118.10" y2="140.00" stroke="#555" stroke-width="0.55"/>
<rect x="706.92" y="133.10" width="1.75" height="4.40" fill="#000"/>
<line x1="710.60" x2="710.60" y1="118.10" y2="138.20" stroke="#555" stroke-width="0.55"/>
<rect x="709.73" y="118.50" width="1.75" height="19.30" fill="#c4c4c4" stroke="#333" stroke-width="0.45"/>
</g>
<g clip-path="url(#clip2)" stroke="#a53fbd" stroke-width="0.9">
<line x1="512" x2="736.5" y1="46.60" y2="46.60"/>
<line x1="512" x2="736.5" y1="79.34" y2="79.34"/>
<line x1="512" x2="736.5" y1="85.85" y2="85.85"/>
<line x1="512" x2="736.5" y1="87.17" y2="87.17"/>
<line x1="512" x2="736.5" y1="90.88" y2="90.88"/>
<line x1="512" x2="736.5" y1="95.71" y2="95.71"/>
<line x1="512" x2="736.5" y1="117.61" y2="117.61"/>
<line x1="512" x2="736.5" y1="129.52" y2="129.52"/>
<line x1="512" x2="736.5" y1="133.94" y2="133.94"/>
<line x1="512" x2="736.5" y1="135.74" y2="135.74"/>
<line x1="512" x2="736.5" y1="144.95" y2="144.95"/>
<line x1="512" x2="736.5" y1="149.77" y2="149.77"/>
<line x1="512" x2="736.5" y1="153.26" y2="153.26"/>
<line x1="512" x2="736.5" y1="157.97" y2="157.97"/>
<line x1="512" x2="736.5" y1="166.16" y2="166.16"/>
<line x1="512" x2="736.5" y1="168.56" y2="168.56"/>
<line x1="512" x2="736.5" y1="175.12" y2="175.12"/>
<line x1="512" x2="736.5" y1="184.07" y2="184.07"/>
<line x1="512" x2="736.5" y1="184.78" y2="184.78"/>
<line x1="512" x2="736.5" y1="190.16" y2="190.16"/>
<line x1="512" x2="736.5" y1="199.25" y2="199.25"/>
<line x1="512" x2="736.5" y1="200.75" y2="200.75"/>
<line x1="512" x2="736.5" y1="205.40" y2="205.40"/>
<line x1="512" x2="736.5" y1="209.37" y2="209.37"/>
<line x1="512" x2="736.5" y1="215.73" y2="215.73"/>
<line x1="512" x2="736.5" y1="223.55" y2="223.55"/>
<line x1="512" x2="736.5" y1="225.32" y2="225.32"/>
<line x1="512" x2="736.5" y1="235.25" y2="235.25"/>
<line x1="512" x2="736.5" y1="237.73" y2="237.73"/>
<line x1="512" x2="736.5" y1="240.95" y2="240.95"/>
<line x1="512" x2="736.5" y1="243.51" y2="243.51"/>
<line x1="512" x2="736.5" y1="243.76" y2="243.76"/>
<line x1="512" x2="736.5" y1="246.77" y2="246.77"/>
<line x1="512" x2="736.5" y1="249.93" y2="249.93"/>
<line x1="512" x2="736.5" y1="255.36" y2="255.36"/>
<line x1="512" x2="736.5" y1="256.76" y2="256.76"/>
<line x1="512" x2="736.5" y1="260.60" y2="260.60"/>
<line x1="512" x2="736.5" y1="261.18" y2="261.18"/>
<line x1="512" x2="736.5" y1="263.61" y2="263.61"/>
<line x1="512" x2="736.5" y1="267.18" y2="267.18"/>
<line x1="512" x2="736.5" y1="269.94" y2="269.94"/>
<line x1="512" x2="736.5" y1="271.21" y2="271.21"/>
<line x1="512" x2="736.5" y1="275.70" y2="275.70"/>
<line x1="512" x2="736.5" y1="252.00" y2="252.00"/>
<line x1="512" x2="736.5" y1="334.99" y2="334.99"/>
</g>
<text x="515.3" y="19.95" font-size="6.6" fill="#444750" text-anchor="start" font-weight="normal" textLength="77" lengthAdjust="spacingAndGlyphs" stroke="#444750" stroke-width="0.08">Gold Spot / U.S. Dollar · 1D · Saxo</text>
<text x="596.2" y="19.95" font-size="6.6" fill="#444750" text-anchor="start" font-weight="normal" textLength="21.7" lengthAdjust="spacingAndGlyphs" stroke="#444750" stroke-width="0.08">O3,930.37</text>
<text x="621.4" y="19.95" font-size="6.6" fill="#444750" text-anchor="start" font-weight="normal" textLength="21.6" lengthAdjust="spacingAndGlyphs" stroke="#444750" stroke-width="0.08">H4,027.13</text>
<text x="646.6" y="19.95" font-size="6.6" fill="#444750" text-anchor="start" font-weight="normal" textLength="22.8" lengthAdjust="spacingAndGlyphs" stroke="#444750" stroke-width="0.08">L3,915.62</text>
<text x="672.3" y="19.95" font-size="6.6" fill="#444750" text-anchor="start" font-weight="normal" textLength="22.3" lengthAdjust="spacingAndGlyphs" stroke="#444750" stroke-width="0.08">C4,024.46</text>
<text x="697.5" y="19.95" font-size="6.6" fill="#444750" text-anchor="start" font-weight="normal" textLength="35.8" lengthAdjust="spacingAndGlyphs" stroke="#444750" stroke-width="0.08">+94.03 (+2.39%)</text>
<rect x="738" y="13.8" width="24" height="9.6" rx="1.5" fill="#fff" stroke="#eceef2" stroke-width="0.5"/>
<text x="741.9" y="20.6" font-size="6.3" fill="#3b3e47" text-anchor="start" font-weight="normal" textLength="8.6" lengthAdjust="spacingAndGlyphs" stroke="#3b3e47" stroke-width="0.08">USD</text>
<g clip-path="url(#aclip2)">
<text x="759.9" y="44.442527999999996" font-size="5.6" fill="#3b3e47" text-anchor="end" font-weight="normal" textLength="20" lengthAdjust="spacingAndGlyphs" stroke="#3b3e47" stroke-width="0.12">4,400.00</text>
<text x="759.9" y="64.76252799999999" font-size="5.6" fill="#3b3e47" text-anchor="end" font-weight="normal" textLength="20" lengthAdjust="spacingAndGlyphs" stroke="#3b3e47" stroke-width="0.12">4,300.00</text>
<text x="759.9" y="85.082528" font-size="5.6" fill="#3b3e47" text-anchor="end" font-weight="normal" textLength="20" lengthAdjust="spacingAndGlyphs" stroke="#3b3e47" stroke-width="0.12">4,200.00</text>
<text x="759.9" y="105.40252799999999" font-size="5.6" fill="#3b3e47" text-anchor="end" font-weight="normal" textLength="20" lengthAdjust="spacingAndGlyphs" stroke="#3b3e47" stroke-width="0.12">4,100.00</text>
<text x="759.9" y="125.72252799999998" font-size="5.6" fill="#3b3e47" text-anchor="end" font-weight="normal" textLength="20" lengthAdjust="spacingAndGlyphs" stroke="#3b3e47" stroke-width="0.12">4,000.00</text>
<text x="759.9" y="146.04252799999998" font-size="5.6" fill="#3b3e47" text-anchor="end" font-weight="normal" textLength="20" lengthAdjust="spacingAndGlyphs" stroke="#3b3e47" stroke-width="0.12">3,900.00</text>
<text x="759.9" y="166.362528" font-size="5.6" fill="#3b3e47" text-anchor="end" font-weight="normal" textLength="20" lengthAdjust="spacingAndGlyphs" stroke="#3b3e47" stroke-width="0.12">3,800.00</text>
<text x="759.9" y="186.682528" font-size="5.6" fill="#3b3e47" text-anchor="end" font-weight="normal" textLength="20" lengthAdjust="spacingAndGlyphs" stroke="#3b3e47" stroke-width="0.12">3,700.00</text>
<text x="759.9" y="207.00252799999998" font-size="5.6" fill="#3b3e47" text-anchor="end" font-weight="normal" textLength="20" lengthAdjust="spacingAndGlyphs" stroke="#3b3e47" stroke-width="0.12">3,600.00</text>
<text x="759.9" y="227.32252799999998" font-size="5.6" fill="#3b3e47" text-anchor="end" font-weight="normal" textLength="20" lengthAdjust="spacingAndGlyphs" stroke="#3b3e47" stroke-width="0.12">3,500.00</text>
<text x="759.9" y="247.64252799999997" font-size="5.6" fill="#3b3e47" text-anchor="end" font-weight="normal" textLength="20" lengthAdjust="spacingAndGlyphs" stroke="#3b3e47" stroke-width="0.12">3,400.00</text>
<text x="759.9" y="267.962528" font-size="5.6" fill="#3b3e47" text-anchor="end" font-weight="normal" textLength="20" lengthAdjust="spacingAndGlyphs" stroke="#3b3e47" stroke-width="0.12">3,300.00</text>
<text x="759.9" y="288.282528" font-size="5.6" fill="#3b3e47" text-anchor="end" font-weight="normal" textLength="20" lengthAdjust="spacingAndGlyphs" stroke="#3b3e47" stroke-width="0.12">3,200.00</text>
<text x="759.9" y="308.602528" font-size="5.6" fill="#3b3e47" text-anchor="end" font-weight="normal" textLength="20" lengthAdjust="spacingAndGlyphs" stroke="#3b3e47" stroke-width="0.12">3,100.00</text>
<text x="759.9" y="328.922528" font-size="5.6" fill="#3b3e47" text-anchor="end" font-weight="normal" textLength="20" lengthAdjust="spacingAndGlyphs" stroke="#3b3e47" stroke-width="0.12">3,000.00</text>
<text x="759.9" y="349.242528" font-size="5.6" fill="#3b3e47" text-anchor="end" font-weight="normal" textLength="20" lengthAdjust="spacingAndGlyphs" stroke="#3b3e47" stroke-width="0.12">2,900.00</text>
<rect x="736.8" y="64.00" width="25.20" height="35.60" fill="#9c27b0"/>
<rect x="736.8" y="125.75" width="25.20" height="237.25" fill="#9c27b0"/>
<rect x="736.8" y="43.40" width="25.20" height="7.2" rx="0.6" fill="#9c27b0"/>
<rect x="736.8" y="63.95" width="25.20" height="7.2" rx="0.6" fill="#9c27b0"/>
<rect x="736.8" y="71.05" width="25.20" height="7.2" rx="0.6" fill="#9c27b0"/>
<rect x="736.8" y="78.15" width="25.20" height="7.2" rx="0.6" fill="#9c27b0"/>
<rect x="736.8" y="85.25" width="25.20" height="7.2" rx="0.6" fill="#9c27b0"/>
<rect x="736.8" y="92.35" width="25.20" height="7.2" rx="0.6" fill="#9c27b0"/>
<rect x="736.8" y="108.20" width="25.20" height="7.2" rx="0.6" fill="#9c27b0"/>
<rect x="736.8" y="125.70" width="25.20" height="7.2" rx="0.6" fill="#9c27b0"/>
<rect x="736.8" y="132.79" width="25.20" height="7.2" rx="0.6" fill="#9c27b0"/>
<rect x="736.8" y="139.88" width="25.20" height="7.2" rx="0.6" fill="#9c27b0"/>
<rect x="736.8" y="146.97" width="25.20" height="7.2" rx="0.6" fill="#9c27b0"/>
<rect x="736.8" y="154.06" width="25.20" height="7.2" rx="0.6" fill="#9c27b0"/>
<rect x="736.8" y="161.15" width="25.20" height="7.2" rx="0.6" fill="#9c27b0"/>
<rect x="736.8" y="168.24" width="25.20" height="7.2" rx="0.6" fill="#9c27b0"/>
<rect x="736.8" y="175.33" width="25.20" height="7.2" rx="0.6" fill="#9c27b0"/>
<rect x="736.8" y="182.42" width="25.20" height="7.2" rx="0.6" fill="#9c27b0"/>
<rect x="736.8" y="189.51" width="25.20" height="7.2" rx="0.6" fill="#9c27b0"/>
<rect x="736.8" y="196.60" width="25.20" height="7.2" rx="0.6" fill="#9c27b0"/>
<rect x="736.8" y="203.69" width="25.20" height="7.2" rx="0.6" fill="#9c27b0"/>
<rect x="736.8" y="210.78" width="25.20" height="7.2" rx="0.6" fill="#9c27b0"/>
<rect x="736.8" y="217.87" width="25.20" height="7.2" rx="0.6" fill="#9c27b0"/>
<rect x="736.8" y="224.96" width="25.20" height="7.2" rx="0.6" fill="#9c27b0"/>
<rect x="736.8" y="232.05" width="25.20" height="7.2" rx="0.6" fill="#9c27b0"/>
<rect x="736.8" y="239.14" width="25.20" height="7.2" rx="0.6" fill="#9c27b0"/>
<rect x="736.8" y="246.23" width="25.20" height="7.2" rx="0.6" fill="#9c27b0"/>
<rect x="736.8" y="253.32" width="25.20" height="7.2" rx="0.6" fill="#9c27b0"/>
<rect x="736.8" y="260.41" width="25.20" height="7.2" rx="0.6" fill="#9c27b0"/>
<rect x="736.8" y="267.50" width="25.20" height="7.2" rx="0.6" fill="#9c27b0"/>
<rect x="736.8" y="274.59" width="25.20" height="7.2" rx="0.6" fill="#9c27b0"/>
<rect x="736.8" y="281.68" width="25.20" height="7.2" rx="0.6" fill="#9c27b0"/>
<rect x="736.8" y="288.77" width="25.20" height="7.2" rx="0.6" fill="#9c27b0"/>
<rect x="736.8" y="295.86" width="25.20" height="7.2" rx="0.6" fill="#9c27b0"/>
<rect x="736.8" y="302.95" width="25.20" height="7.2" rx="0.6" fill="#9c27b0"/>
<rect x="736.8" y="310.04" width="25.20" height="7.2" rx="0.6" fill="#9c27b0"/>
<rect x="736.8" y="317.13" width="25.20" height="7.2" rx="0.6" fill="#9c27b0"/>
<rect x="736.8" y="324.22" width="25.20" height="7.2" rx="0.6" fill="#9c27b0"/>
<rect x="736.8" y="331.31" width="25.20" height="7.2" rx="0.6" fill="#9c27b0"/>
<rect x="736.8" y="338.40" width="25.20" height="7.2" rx="0.6" fill="#9c27b0"/>
<rect x="736.8" y="345.49" width="25.20" height="7.2" rx="0.6" fill="#9c27b0"/>
<rect x="736.8" y="352.58" width="25.20" height="7.2" rx="0.6" fill="#9c27b0"/>
<rect x="736.8" y="359.67" width="25.20" height="7.2" rx="0.6" fill="#9c27b0"/>
<text x="760.1" y="48.95" font-size="5.9" fill="#ffffff" text-anchor="end" font-weight="normal" textLength="19.8" lengthAdjust="spacingAndGlyphs" stroke="#ffffff" stroke-width="0.06">4,379.54</text>
<text x="760.1" y="69.5" font-size="5.9" fill="#ffffff" text-anchor="end" font-weight="normal" textLength="19.8" lengthAdjust="spacingAndGlyphs" stroke="#ffffff" stroke-width="0.06">4,218.42</text>
<text x="760.1" y="76.6" font-size="5.9" fill="#ffffff" text-anchor="end" font-weight="normal" textLength="19.8" lengthAdjust="spacingAndGlyphs" stroke="#ffffff" stroke-width="0.06">4,186.40</text>
<text x="760.1" y="83.7" font-size="5.9" fill="#ffffff" text-anchor="end" font-weight="normal" textLength="19.8" lengthAdjust="spacingAndGlyphs" stroke="#ffffff" stroke-width="0.06">4,179.87</text>
<text x="760.1" y="90.8" font-size="5.9" fill="#ffffff" text-anchor="end" font-weight="normal" textLength="19.8" lengthAdjust="spacingAndGlyphs" stroke="#ffffff" stroke-width="0.06">4,161.64</text>
<text x="760.1" y="97.89999999999999" font-size="5.9" fill="#ffffff" text-anchor="end" font-weight="normal" textLength="19.8" lengthAdjust="spacingAndGlyphs" stroke="#ffffff" stroke-width="0.06">4,137.85</text>
<text x="760.1" y="113.75" font-size="5.9" fill="#ffffff" text-anchor="end" font-weight="normal" textLength="19.8" lengthAdjust="spacingAndGlyphs" stroke="#ffffff" stroke-width="0.06">4,030.06</text>
<text x="760.1" y="131.25" font-size="5.9" fill="#ffffff" text-anchor="end" font-weight="normal" textLength="19.8" lengthAdjust="spacingAndGlyphs" stroke="#ffffff" stroke-width="0.06">3,971.49</text>
<text x="760.1" y="138.34" font-size="5.9" fill="#ffffff" text-anchor="end" font-weight="normal" textLength="19.8" lengthAdjust="spacingAndGlyphs" stroke="#ffffff" stroke-width="0.06">3,949.71</text>
<text x="760.1" y="145.43" font-size="5.9" fill="#ffffff" text-anchor="end" font-weight="normal" textLength="19.8" lengthAdjust="spacingAndGlyphs" stroke="#ffffff" stroke-width="0.06">3,940.87</text>
<text x="760.1" y="152.52" font-size="5.9" fill="#ffffff" text-anchor="end" font-weight="normal" textLength="19.8" lengthAdjust="spacingAndGlyphs" stroke="#ffffff" stroke-width="0.06">3,895.51</text>
<text x="760.1" y="159.61" font-size="5.9" fill="#ffffff" text-anchor="end" font-weight="normal" textLength="19.8" lengthAdjust="spacingAndGlyphs" stroke="#ffffff" stroke-width="0.06">3,871.79</text>
<text x="760.1" y="166.7" font-size="5.9" fill="#ffffff" text-anchor="end" font-weight="normal" textLength="19.8" lengthAdjust="spacingAndGlyphs" stroke="#ffffff" stroke-width="0.06">3,854.64</text>
<text x="760.1" y="173.79" font-size="5.9" fill="#ffffff" text-anchor="end" font-weight="normal" textLength="19.8" lengthAdjust="spacingAndGlyphs" stroke="#ffffff" stroke-width="0.06">3,831.45</text>
<text x="760.1" y="180.88" font-size="5.9" fill="#ffffff" text-anchor="end" font-weight="normal" textLength="19.8" lengthAdjust="spacingAndGlyphs" stroke="#ffffff" stroke-width="0.06">3,791.16</text>
<text x="760.1" y="187.97" font-size="5.9" fill="#ffffff" text-anchor="end" font-weight="normal" textLength="19.8" lengthAdjust="spacingAndGlyphs" stroke="#ffffff" stroke-width="0.06">3,779.34</text>
<text x="760.1" y="195.06" font-size="5.9" fill="#ffffff" text-anchor="end" font-weight="normal" textLength="19.8" lengthAdjust="spacingAndGlyphs" stroke="#ffffff" stroke-width="0.06">3,747.05</text>
<text x="760.1" y="202.15" font-size="5.9" fill="#ffffff" text-anchor="end" font-weight="normal" textLength="19.8" lengthAdjust="spacingAndGlyphs" stroke="#ffffff" stroke-width="0.06">3,703.02</text>
<text x="760.1" y="209.24" font-size="5.9" fill="#ffffff" text-anchor="end" font-weight="normal" textLength="19.8" lengthAdjust="spacingAndGlyphs" stroke="#ffffff" stroke-width="0.06">3,699.53</text>
<text x="760.1" y="216.32999999999998" font-size="5.9" fill="#ffffff" text-anchor="end" font-weight="normal" textLength="19.8" lengthAdjust="spacingAndGlyphs" stroke="#ffffff" stroke-width="0.06">3,673.06</text>
<text x="760.1" y="223.42000000000002" font-size="5.9" fill="#ffffff" text-anchor="end" font-weight="normal" textLength="19.8" lengthAdjust="spacingAndGlyphs" stroke="#ffffff" stroke-width="0.06">3,628.31</text>
<text x="760.1" y="230.51" font-size="5.9" fill="#ffffff" text-anchor="end" font-weight="normal" textLength="19.8" lengthAdjust="spacingAndGlyphs" stroke="#ffffff" stroke-width="0.06">3,620.93</text>
<text x="760.1" y="237.6" font-size="5.9" fill="#ffffff" text-anchor="end" font-weight="normal" textLength="19.8" lengthAdjust="spacingAndGlyphs" stroke="#ffffff" stroke-width="0.06">3,598.03</text>
<text x="760.1" y="244.69" font-size="5.9" fill="#ffffff" text-anchor="end" font-weight="normal" textLength="19.8" lengthAdjust="spacingAndGlyphs" stroke="#ffffff" stroke-width="0.06">3,578.49</text>
<text x="760.1" y="251.78" font-size="5.9" fill="#ffffff" text-anchor="end" font-weight="normal" textLength="19.8" lengthAdjust="spacingAndGlyphs" stroke="#ffffff" stroke-width="0.06">3,547.21</text>
<text x="760.1" y="258.87" font-size="5.9" fill="#ffffff" text-anchor="end" font-weight="normal" textLength="19.8" lengthAdjust="spacingAndGlyphs" stroke="#ffffff" stroke-width="0.06">3,508.70</text>
<text x="760.1" y="265.96" font-size="5.9" fill="#ffffff" text-anchor="end" font-weight="normal" textLength="19.8" lengthAdjust="spacingAndGlyphs" stroke="#ffffff" stroke-width="0.06">3,500.02</text>
<text x="760.1" y="273.05" font-size="5.9" fill="#ffffff" text-anchor="end" font-weight="normal" textLength="19.8" lengthAdjust="spacingAndGlyphs" stroke="#ffffff" stroke-width="0.06">3,451.15</text>
<text x="760.1" y="280.14" font-size="5.9" fill="#ffffff" text-anchor="end" font-weight="normal" textLength="19.8" lengthAdjust="spacingAndGlyphs" stroke="#ffffff" stroke-width="0.06">3,438.93</text>
<text x="760.1" y="287.22999999999996" font-size="5.9" fill="#ffffff" text-anchor="end" font-weight="normal" textLength="19.8" lengthAdjust="spacingAndGlyphs" stroke="#ffffff" stroke-width="0.06">3,423.10</text>
<text x="760.1" y="294.32" font-size="5.9" fill="#ffffff" text-anchor="end" font-weight="normal" textLength="19.8" lengthAdjust="spacingAndGlyphs" stroke="#ffffff" stroke-width="0.06">3,410.50</text>
<text x="760.1" y="301.41" font-size="5.9" fill="#ffffff" text-anchor="end" font-weight="normal" textLength="19.8" lengthAdjust="spacingAndGlyphs" stroke="#ffffff" stroke-width="0.06">3,409.27</text>
<text x="760.1" y="308.5" font-size="5.9" fill="#ffffff" text-anchor="end" font-weight="normal" textLength="19.8" lengthAdjust="spacingAndGlyphs" stroke="#ffffff" stroke-width="0.06">3,394.45</text>
<text x="760.1" y="315.59" font-size="5.9" fill="#ffffff" text-anchor="end" font-weight="normal" textLength="19.8" lengthAdjust="spacingAndGlyphs" stroke="#ffffff" stroke-width="0.06">3,378.91</text>
<text x="760.1" y="322.68" font-size="5.9" fill="#ffffff" text-anchor="end" font-weight="normal" textLength="19.8" lengthAdjust="spacingAndGlyphs" stroke="#ffffff" stroke-width="0.06">3,352.18</text>
<text x="760.1" y="329.77" font-size="5.9" fill="#ffffff" text-anchor="end" font-weight="normal" textLength="19.8" lengthAdjust="spacingAndGlyphs" stroke="#ffffff" stroke-width="0.06">3,345.31</text>
<text x="760.1" y="336.85999999999996" font-size="5.9" fill="#ffffff" text-anchor="end" font-weight="normal" textLength="19.8" lengthAdjust="spacingAndGlyphs" stroke="#ffffff" stroke-width="0.06">3,326.38</text>
<text x="760.1" y="343.95" font-size="5.9" fill="#ffffff" text-anchor="end" font-weight="normal" textLength="19.8" lengthAdjust="spacingAndGlyphs" stroke="#ffffff" stroke-width="0.06">3,323.55</text>
<text x="760.1" y="351.04" font-size="5.9" fill="#ffffff" text-anchor="end" font-weight="normal" textLength="19.8" lengthAdjust="spacingAndGlyphs" stroke="#ffffff" stroke-width="0.06">3,311.60</text>
<text x="760.1" y="358.13" font-size="5.9" fill="#ffffff" text-anchor="end" font-weight="normal" textLength="19.8" lengthAdjust="spacingAndGlyphs" stroke="#ffffff" stroke-width="0.06">3,293.99</text>
<text x="760.1" y="365.21999999999997" font-size="5.9" fill="#ffffff" text-anchor="end" font-weight="normal" textLength="19.8" lengthAdjust="spacingAndGlyphs" stroke="#ffffff" stroke-width="0.06">3,280.45</text>
<rect x="736.8" y="115.35" width="25.20" height="7.1" rx="0.6" fill="#dfe1e6"/>
<text x="759.9" y="120.75" font-size="5.6" fill="#131722" text-anchor="end" font-weight="normal" textLength="20" lengthAdjust="spacingAndGlyphs" stroke="#131722" stroke-width="0.12">4,024.46</text>
</g>
<text x="549.75" y="371.1" font-size="5.9" fill="#3b3e47" text-anchor="middle" font-weight="normal" textLength="8.8" lengthAdjust="spacingAndGlyphs" stroke="#3b3e47" stroke-width="0.1">Aug</text>
<text x="602" y="371.1" font-size="5.9" fill="#3b3e47" text-anchor="middle" font-weight="normal" textLength="8.8" lengthAdjust="spacingAndGlyphs" stroke="#3b3e47" stroke-width="0.1">Sep</text>
<text x="657" y="371.1" font-size="5.9" fill="#3b3e47" text-anchor="middle" font-weight="normal" textLength="8.8" lengthAdjust="spacingAndGlyphs" stroke="#3b3e47" stroke-width="0.1">Oct</text>
<text x="714.75" y="371.1" font-size="5.9" fill="#3b3e47" text-anchor="middle" font-weight="normal" textLength="8.8" lengthAdjust="spacingAndGlyphs" stroke="#3b3e47" stroke-width="0.1">Nov</text>
<g fill="#131722">
<path d="M4.9,384 H9.9 V390.2 H7.2 V386.6 H4.9 Z"/>
<circle cx="12.1" cy="385.25" r="1.15"/>
<path d="M14.0,384 H17.3 L15.5,390.2 H12.3 Z"/>
</g>
<text x="20.6" y="390.2" font-size="8.6" fill="#131722" text-anchor="start" font-weight="normal" textLength="49.9" lengthAdjust="spacingAndGlyphs" stroke="#131722" stroke-width="0.35">TradingView</text>
</svg>
</body></html>
